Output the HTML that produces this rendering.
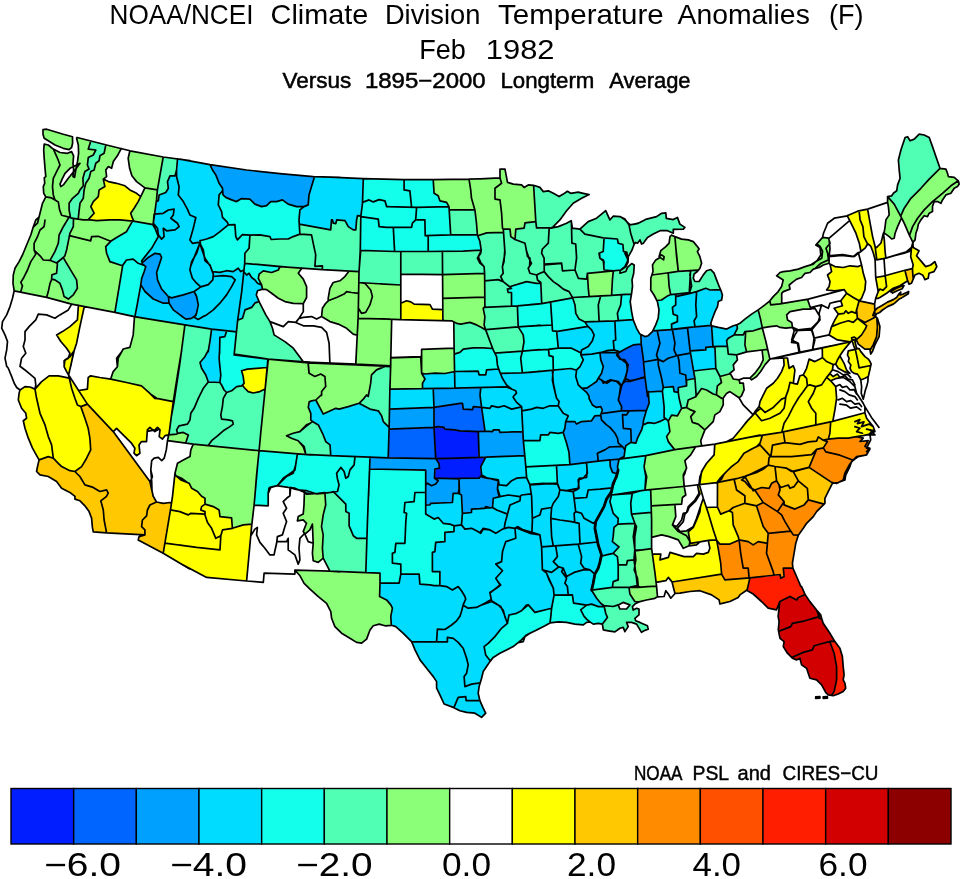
<!DOCTYPE html>
<html><head><meta charset="utf-8"><title>NOAA/NCEI Climate Division Temperature Anomalies</title>
<style>html,body{margin:0;padding:0;background:#fff;}svg{display:block;filter:blur(0.45px);}</style></head>
<body>
<svg width="961" height="879" viewBox="0 0 961 879">
<rect width="961" height="879" fill="#fff"/>
<path fill="#001eff" fill-rule="evenodd" d="M434.7,427.3 434.3,431.0 436.0,458.3 441.3,458.7 436.7,459.0 436.7,460.3 439.3,464.0 439.7,468.0 439.0,468.7 435.3,469.3 435.0,478.0 479.3,478.0 481.3,475.7 480.3,467.0 484.7,459.0 484.7,457.3 474.7,457.3 478.7,457.0 478.0,432.0 459.7,431.0 445.7,429.3 443.0,427.3Z"/>
<path fill="#0064ff" fill-rule="evenodd" d="M433.7,427.7 389.3,429.3 388.7,457.7 435.3,458.3ZM434.3,407.7 434.3,427.0 438.0,426.3 444.0,427.3 446.0,429.0 462.7,430.7 474.7,431.3 484.7,430.7 481.3,407.7 473.3,407.0 472.7,409.3 471.7,410.0 464.0,409.3 463.0,408.3 462.3,403.7 458.3,403.7ZM641.0,344.3 632.7,345.3 619.0,352.7 618.7,351.7 617.0,351.7 617.0,353.0 618.3,353.7 618.3,355.3 620.0,358.3 625.0,360.0 628.3,365.0 626.0,377.0 626.3,379.0 625.7,379.3 625.7,381.0 627.0,381.3 624.7,381.7 621.7,385.7 618.7,398.7 618.7,400.7 622.0,407.0 621.7,410.3 646.3,410.0 648.7,404.0 648.3,396.3 647.0,395.7 645.0,378.0 641.7,378.0 644.7,377.0 643.0,356.7ZM636.7,379.7 630.0,382.0 628.0,381.7 628.7,381.3 629.0,380.0 631.3,380.3 635.0,379.3Z"/>
<path fill="#00a0ff" fill-rule="evenodd" d="M498.0,480.7 487.7,478.7 482.3,477.0 480.0,477.0 478.3,478.7 459.3,479.0 460.0,494.0 462.0,495.7 462.7,513.0 471.3,512.0 471.3,509.7 472.3,508.7 485.0,508.0 485.7,506.7 488.7,507.3 492.0,507.0 493.0,499.0 494.0,498.0 498.7,497.0 498.7,494.7 497.0,490.0ZM370.3,457.7 370.0,468.7 425.0,470.0 426.0,471.0 426.0,504.7 430.0,504.7 431.3,503.0 452.0,502.0 453.0,494.0 454.0,493.0 458.3,493.0 458.7,479.0 437.3,478.7 437.0,480.0 434.7,478.3 434.7,469.7 435.7,468.7 439.3,468.0 438.7,463.0 436.0,459.0ZM478.7,432.0 479.3,457.0 524.3,455.3 522.7,432.0 500.7,432.7 499.7,432.0 499.0,430.3 493.3,430.3 491.7,432.0 487.3,431.3ZM433.7,407.7 389.7,409.3 389.3,428.7 433.7,427.0ZM480.3,388.0 433.7,389.0 434.3,407.0 459.7,403.0 461.7,403.0 462.7,404.0 463.3,408.7 472.3,409.3 473.0,407.0 474.0,406.3 481.3,407.0 479.7,395.3ZM606.0,351.0 606.0,352.3 607.7,352.3 607.7,353.0 600.3,353.0 601.0,360.7 603.3,366.0 603.3,367.7 602.0,373.0 599.3,376.7 599.0,378.7 598.0,379.0 596.0,382.3 587.0,388.3 583.3,388.3 583.3,389.7 587.0,392.7 589.0,396.0 589.3,399.0 592.3,405.0 596.0,407.0 600.7,406.7 602.3,409.7 602.0,413.0 604.0,413.3 601.7,413.7 600.7,415.7 594.7,416.0 592.0,420.3 591.0,421.0 581.0,422.0 577.0,424.0 575.3,422.0 566.0,422.0 565.3,428.0 563.7,431.7 563.7,433.0 569.3,452.3 570.3,464.3 610.0,459.7 610.7,467.3 612.3,472.0 617.3,473.0 617.7,468.7 617.0,466.7 618.3,462.0 618.0,459.0 623.7,456.7 624.7,451.7 624.7,449.3 624.0,448.7 625.0,448.3 625.3,446.3 626.3,445.0 631.0,442.0 631.3,439.7 631.7,442.3 635.7,443.0 636.7,439.3 641.7,429.7 643.0,424.3 643.3,420.0 645.7,412.7 645.7,410.7 629.0,411.0 628.3,412.0 628.0,411.0 620.7,410.7 621.3,409.3 621.3,406.0 618.3,400.3 618.3,398.7 619.3,395.7 620.3,385.0 622.0,384.7 623.7,381.3 627.0,371.0 626.7,364.3 625.3,362.3 619.7,358.7 617.0,355.3 616.7,352.7 609.3,352.7 609.0,351.0ZM619.7,446.3 620.3,445.0 622.0,446.3ZM616.7,381.7 618.3,381.7 620.3,384.3 620.0,384.7ZM613.0,380.3 610.7,380.7 607.0,383.3 603.3,383.3 602.0,381.0 602.3,380.3 604.7,382.0 606.0,382.0 609.7,380.0ZM711.3,325.7 687.7,328.0 687.3,329.0 687.0,328.3 672.3,330.0 658.0,331.0 657.7,332.3 657.3,331.0 654.7,331.0 652.0,331.7 647.3,336.3 644.7,336.7 642.7,335.3 641.3,335.3 641.7,345.7 644.0,361.3 646.0,361.7 644.0,362.0 647.0,392.0 662.3,390.7 663.3,387.0 672.7,386.3 673.7,387.3 674.0,391.0 674.7,391.7 678.0,392.0 678.0,388.0 679.0,387.0 686.3,385.7 686.3,379.7 694.3,378.3 694.3,375.7 692.0,365.0 690.3,353.7 688.7,353.3 690.0,353.0 690.3,350.7 705.3,349.7 705.3,348.0 706.3,347.0 712.7,346.3ZM685.3,375.7 685.7,375.3 686.0,376.0 685.7,376.3ZM679.7,372.3 680.0,372.0 680.3,372.7 680.0,373.0ZM678.3,359.3 678.7,359.0 679.0,359.7 678.7,360.0ZM658.0,358.3 658.3,359.3 659.7,360.0 658.7,360.3 658.3,365.0 658.0,360.0 656.0,359.7 657.7,359.3ZM678.0,357.3 678.3,357.0 678.7,357.7 678.3,358.0ZM676.0,355.3 678.3,355.7 676.3,356.0ZM674.0,347.7 674.3,347.3 674.7,348.0 674.3,348.3ZM674.3,345.3 674.7,345.0 675.0,345.7 674.7,346.0ZM674.7,343.3 675.0,343.0 675.3,343.7 675.0,344.0ZM147.7,257.7 142.7,262.7 142.7,264.3 145.7,266.7 145.7,267.7 142.0,277.7 141.0,285.7 144.7,291.3 153.3,299.0 162.7,303.0 168.7,303.0 169.0,302.3 169.3,304.0 173.0,309.7 184.7,318.3 190.7,318.3 194.7,316.3 196.7,313.0 198.0,303.7 196.7,297.0 194.3,292.3 192.0,292.3 183.3,295.3 172.7,298.0 171.0,298.0 170.0,297.3 168.3,297.7 168.0,296.0 161.3,288.7 157.0,279.7 156.3,272.3 161.3,258.0 160.3,254.7 159.3,254.0 154.3,253.7ZM211.0,165.3 211.0,167.0 212.3,170.0 216.0,175.3 219.3,184.0 222.7,188.7 223.3,195.3 225.7,197.3 229.3,199.0 237.3,201.3 242.0,198.3 249.3,198.7 254.3,203.7 261.0,206.3 267.3,205.3 271.3,201.3 277.3,201.3 281.3,200.0 282.7,200.0 288.7,204.0 296.0,206.3 304.7,206.3 308.0,205.0 308.7,195.0 314.0,178.7 314.0,177.0 249.0,170.7 214.0,165.3Z"/>
<path fill="#00dcff" fill-rule="evenodd" d="M609.7,460.3 586.7,463.0 586.3,464.0 586.0,463.3 582.3,463.3 570.7,465.0 557.0,465.7 557.7,479.7 557.3,484.3 548.7,484.0 532.3,485.0 530.0,485.7 526.7,477.7 525.7,477.3 526.3,477.0 524.3,456.0 485.7,457.3 481.0,466.0 482.0,475.0 487.0,478.0 497.7,479.7 498.7,480.7 499.0,484.3 500.3,485.0 498.0,485.3 498.0,490.0 500.3,496.7 493.7,498.3 492.3,507.7 472.0,509.3 472.0,511.7 471.0,512.7 462.7,513.7 462.3,515.7 461.3,495.0 459.0,493.7 453.7,493.7 452.7,501.7 451.7,502.7 430.7,503.7 429.3,505.3 426.0,505.3 426.0,514.0 433.3,518.7 438.3,517.3 443.0,523.0 449.7,523.7 455.3,525.7 454.3,526.0 454.3,531.0 453.3,532.0 445.3,532.7 445.3,541.0 444.3,542.0 436.0,542.7 435.3,551.0 434.3,552.0 432.7,552.3 432.7,571.3 439.3,571.3 440.3,572.3 440.7,585.7 434.0,586.0 420.7,584.3 419.7,583.3 418.7,574.3 400.7,574.3 399.7,581.7 398.3,583.7 380.3,583.7 380.0,596.7 386.3,599.7 391.0,605.3 392.3,608.0 391.0,615.0 391.7,625.0 396.3,627.0 411.3,641.7 423.7,642.0 412.7,642.3 412.7,644.0 420.3,660.7 433.7,677.0 437.0,682.0 437.0,689.0 444.3,704.0 452.7,707.0 454.3,706.7 454.7,708.0 460.0,710.7 465.3,712.0 474.7,713.0 481.0,717.0 482.3,717.0 485.3,714.0 485.3,712.7 480.0,701.0 466.7,700.7 479.3,700.3 479.3,698.0 478.0,693.0 478.7,686.7 479.3,685.3 479.0,683.0 480.3,682.3 483.0,672.0 490.0,661.7 490.0,660.3 485.3,654.7 484.0,646.7 489.0,643.0 494.7,637.3 501.3,628.7 506.7,624.0 506.3,620.7 507.7,620.3 508.7,615.7 509.7,614.7 516.3,613.3 521.7,610.7 527.3,604.7 534.7,612.0 551.3,608.3 554.0,594.0 554.3,595.0 568.0,594.7 568.3,594.0 568.7,594.7 571.7,594.7 572.7,595.7 573.7,603.0 585.0,605.0 592.3,604.0 597.7,606.3 602.7,606.0 602.7,604.7 600.3,603.0 596.3,598.0 591.7,590.3 594.7,575.3 594.7,573.7 594.0,573.3 595.7,573.0 598.0,569.0 600.0,562.3 601.7,554.7 602.0,555.7 604.0,555.7 613.3,553.3 618.3,548.0 618.3,546.7 612.3,541.7 613.7,528.0 617.7,524.3 618.0,517.7 613.0,513.0 610.0,502.7 611.0,497.7 611.0,494.7 610.0,494.0 611.3,492.3 611.3,488.3 608.3,488.0 612.3,487.3 613.0,483.7 614.7,480.7 615.3,477.0 616.3,475.3 616.3,473.7 612.0,472.0 610.0,466.7ZM463.7,677.0 464.0,676.7 464.3,677.3 464.0,677.7ZM441.3,641.7 424.7,641.7 436.3,641.3 436.7,639.0 437.0,641.3ZM504.0,614.3 504.3,614.0 504.7,614.7 504.3,615.0ZM502.3,609.3 503.7,610.7 504.3,613.0 504.0,614.3 502.0,610.3ZM463.0,605.3 463.3,605.0 464.3,606.0 463.3,606.3ZM495.7,603.3 495.0,603.7 492.3,602.0 491.0,602.0 484.7,604.3 483.7,604.0 490.3,600.3 491.0,597.0 491.7,600.3ZM492.0,591.0 492.3,591.3 490.7,593.0 490.3,595.3 489.7,593.0ZM493.0,590.3 493.3,590.7 492.3,591.3 492.0,591.0ZM567.0,587.0 567.3,586.7 567.7,587.3 567.3,587.7ZM499.7,583.7 500.7,585.0 500.0,585.7 499.3,585.3ZM550.0,582.0 550.3,581.7 550.7,582.3 550.3,582.7ZM549.7,581.3 550.0,581.0 550.3,581.7 550.0,582.0ZM549.3,580.7 549.7,580.3 550.0,581.0 549.7,581.3ZM549.0,580.0 549.3,579.7 549.7,580.3 549.3,580.7ZM548.7,579.3 549.0,579.0 549.3,579.7 549.0,580.0ZM548.3,578.7 548.7,578.3 549.0,579.0 548.7,579.3ZM548.0,577.7 548.3,577.3 548.7,578.0 548.3,578.3ZM565.7,574.0 566.3,575.7 567.7,576.0 566.3,577.7 564.3,575.3 565.3,575.0ZM542.7,570.3 546.0,570.7 545.7,572.7ZM583.3,570.0 584.0,569.7 584.3,568.3 590.0,570.0ZM563.0,568.0 564.0,569.3 563.7,570.0 562.7,569.7ZM558.0,566.7 559.7,567.0 558.3,567.3ZM580.7,561.0 581.0,560.7 581.3,561.3 581.0,561.7ZM581.0,558.7 581.3,558.3 581.7,559.0 581.3,559.3ZM581.3,556.7 581.7,556.3 582.0,557.0 581.7,557.3ZM556.7,554.3 557.0,554.0 557.3,554.7 557.0,555.0ZM580.7,554.0 581.0,553.7 581.3,554.3 581.0,554.7ZM580.3,552.7 580.7,552.3 581.0,553.0 580.7,553.3ZM556.3,552.3 556.7,552.0 557.0,552.7 556.7,553.0ZM556.0,550.0 556.3,549.7 556.7,550.3 556.3,550.7ZM555.7,548.0 556.0,547.7 556.3,548.3 556.0,548.7ZM579.0,547.7 579.3,547.3 579.7,548.0 579.3,548.3ZM541.7,546.3 543.3,547.0 542.0,547.3 541.7,552.3ZM578.7,546.3 579.0,546.0 579.3,546.7 579.0,547.0ZM576.7,544.0 579.7,544.0 579.0,544.3 578.7,545.7 578.3,544.3ZM552.7,544.0 553.3,544.0 553.3,545.7 555.7,545.7 556.0,546.3 552.7,546.3ZM596.7,542.0 597.7,541.3 598.0,541.7 597.7,542.3ZM579.7,541.3 580.3,541.3 580.3,543.3 582.7,543.7 580.0,544.0ZM551.7,538.3 552.0,538.0 552.3,538.7 552.0,539.0ZM482.7,530.0 480.7,533.3 479.0,532.3 480.3,532.0 482.3,529.7ZM483.0,528.7 484.3,528.3 487.3,529.3 485.3,529.7 483.3,529.3ZM514.7,528.0 515.3,528.3 515.0,530.3ZM515.3,528.0 517.7,526.7 522.7,529.7 531.7,531.7 532.0,526.7 532.3,532.3 539.3,534.7 538.0,535.0 530.3,533.7 517.7,528.3ZM504.7,525.3 505.0,527.7 506.3,528.0 504.3,528.7ZM461.7,522.7 462.0,525.0 460.7,525.3 460.3,525.0 461.3,524.7ZM595.7,521.7 595.3,526.0 595.0,523.3 592.7,523.0ZM574.7,520.7 575.0,522.3 573.0,522.0 574.3,521.7ZM550.7,517.0 551.0,518.3 553.0,518.7 551.0,519.0 550.7,521.0ZM532.3,514.7 532.7,517.3 534.0,517.7 532.7,518.3 532.3,525.7ZM575.3,511.3 575.7,511.0 576.0,511.7 575.7,512.0ZM573.7,497.7 574.0,497.3 574.3,498.0 575.7,498.3 574.0,499.0ZM519.3,496.7 520.3,496.3 520.7,497.7 520.3,498.0ZM531.3,493.3 531.3,494.7 530.3,494.0ZM572.7,491.7 573.3,491.3 573.7,492.3 573.3,492.7ZM530.7,491.7 531.0,491.3 531.3,492.0 531.0,492.3ZM571.3,490.0 571.0,491.7 564.7,490.7 570.3,489.7ZM530.3,489.3 530.7,489.0 531.0,489.7 530.7,490.0ZM578.3,488.7 576.0,490.3 575.0,489.0 577.3,488.3ZM583.3,477.7 583.7,478.0 583.0,478.7 579.0,480.3 579.3,487.7 578.3,488.7 578.0,480.7 578.7,479.0 579.7,478.0ZM586.7,474.3 587.0,476.7 586.0,477.7 583.7,478.0 583.3,477.7 584.3,477.3ZM587.0,468.7 587.7,472.3 587.0,473.7ZM309.3,402.0 308.7,408.0 311.0,413.7 311.0,420.7 318.7,425.3 323.0,434.3 325.7,441.7 330.3,445.7 331.0,455.3 388.0,457.7 388.7,426.7 383.0,421.3 381.3,415.0 378.7,411.0 370.3,409.3 359.7,403.7 358.3,403.7 348.3,407.0 340.0,409.0 335.0,408.7 323.3,414.0 315.7,400.3 312.0,400.7ZM662.0,391.3 648.7,392.3 649.3,403.3 644.0,419.0 643.7,424.0 645.3,424.0 648.7,422.3 655.7,423.0 664.3,419.3 664.3,417.7 663.7,416.7 663.7,404.7ZM390.3,389.3 390.0,408.7 433.7,407.0 433.0,389.0ZM714.7,348.0 713.3,347.0 706.0,347.7 706.0,349.3 705.0,350.3 690.7,351.3 693.7,370.7 715.3,368.3ZM736.7,325.3 732.7,326.0 727.0,329.0 720.0,328.0 714.3,326.3 712.0,326.3 713.3,346.3 727.0,346.0 726.3,341.0 728.7,338.0 734.0,335.0 737.0,329.0ZM640.7,334.3 639.7,333.7 636.7,328.7 633.3,320.0 615.3,321.0 615.0,325.0 614.7,321.0 586.0,322.3 586.0,323.7 587.7,326.0 587.3,326.7 557.0,331.7 558.7,348.0 571.3,348.0 579.7,352.3 581.0,352.3 581.3,354.7 582.0,355.0 581.7,357.0 583.3,360.3 580.3,366.3 577.0,369.3 576.7,370.7 571.7,369.0 553.7,370.7 553.0,377.3 553.7,384.7 555.0,389.7 554.7,391.3 552.0,380.0 552.0,371.0 547.0,371.0 523.3,373.3 501.0,373.7 500.7,374.3 498.7,369.3 486.7,370.3 486.3,373.3 485.0,375.3 479.7,375.3 478.7,374.3 478.3,371.7 455.0,372.0 454.7,381.0 454.3,372.3 452.0,372.3 445.0,374.0 423.0,374.0 423.0,375.7 425.0,379.0 422.7,382.7 422.7,388.3 454.7,387.7 455.0,382.3 455.3,387.7 462.0,388.0 486.3,387.3 486.3,388.0 481.0,388.0 480.3,392.7 480.7,399.3 481.7,406.7 482.7,407.3 482.0,407.7 485.3,430.7 492.3,431.3 494.0,429.7 498.3,429.7 499.3,430.3 500.0,432.0 522.7,431.3 523.0,430.7 523.7,440.0 539.7,440.3 540.3,435.7 541.3,434.7 548.7,434.7 550.7,432.0 556.3,433.0 563.0,432.3 564.7,429.0 565.3,422.0 566.3,420.0 566.7,421.3 574.3,421.3 576.0,423.3 578.0,423.3 582.0,421.3 592.0,420.3 595.0,415.7 600.7,414.7 602.0,410.7 601.0,407.3 596.3,407.3 592.7,405.3 588.7,398.0 588.7,395.7 587.3,393.3 581.7,388.0 587.0,388.0 596.7,381.7 598.0,378.7 601.3,374.0 603.0,368.0 603.0,366.0 600.3,359.7 600.0,352.3 606.7,350.3 608.0,350.7 608.0,352.0 615.7,352.0 616.0,350.3 620.7,351.7 633.7,344.7 640.7,344.0ZM567.7,415.7 568.0,415.3 568.3,416.0 568.0,416.3ZM523.3,410.3 523.3,411.0 522.3,411.0 522.0,416.0 521.7,410.7ZM520.7,405.7 522.0,407.3 521.7,409.3 521.3,407.7 519.7,407.3 520.3,407.0ZM555.7,395.7 556.0,395.3 556.3,396.0 556.0,396.3ZM555.0,393.0 555.3,392.7 555.7,393.3 555.3,393.7ZM516.0,392.7 516.3,392.3 516.7,393.0 516.3,393.3ZM510.3,388.0 509.3,388.3 507.3,387.3 500.7,387.0 507.0,386.7 507.3,385.3ZM575.3,376.3 575.7,376.0 576.0,376.7 575.7,377.0ZM575.7,374.3 576.0,374.0 576.3,374.7 576.0,375.0ZM576.0,372.0 576.3,371.7 576.7,372.3 576.3,372.7ZM614.0,348.3 614.3,350.0 613.0,350.3 612.7,350.0 613.7,349.7ZM720.7,290.3 710.3,290.3 705.0,288.7 697.0,291.7 696.7,293.3 696.3,292.3 694.7,292.3 683.3,295.0 683.0,293.7 676.0,294.3 676.0,296.0 677.3,296.3 676.0,296.7 676.0,304.3 672.7,307.3 673.7,314.0 677.0,315.3 677.7,316.3 677.7,321.0 677.0,322.0 672.0,324.0 672.3,329.0 710.7,325.0 710.7,322.3 717.0,307.3 718.0,302.3 721.7,299.3 722.0,294.3ZM314.7,177.0 309.3,194.3 308.7,204.3 308.0,205.3 304.0,206.7 300.3,209.7 299.3,217.7 299.7,224.0 327.3,229.3 330.3,229.3 331.3,220.7 332.0,220.0 332.7,220.3 333.3,223.0 335.7,223.3 336.3,220.3 337.3,219.7 342.0,220.0 345.3,221.0 348.3,226.7 353.0,229.7 355.3,229.7 357.0,216.3 357.7,215.7 360.7,215.7 362.0,205.3 363.0,179.0 334.0,177.3ZM177.7,159.3 177.0,176.3 176.7,176.7 176.3,175.7 169.7,176.3 167.7,181.0 168.7,188.0 165.3,192.7 159.3,195.0 158.7,200.0 156.7,201.7 155.3,210.7 155.7,214.0 154.7,215.3 154.0,224.3 155.0,225.3 154.3,226.0 154.3,227.3 155.0,227.7 156.0,230.7 158.0,230.3 158.3,234.3 159.3,236.3 157.7,237.7 152.0,248.0 142.0,260.0 142.0,262.0 143.7,262.0 148.7,257.0 155.3,253.0 160.0,254.0 161.7,258.0 157.3,270.3 157.0,274.7 157.7,280.7 162.0,289.7 168.3,296.7 171.0,297.7 173.0,297.7 183.3,295.0 194.3,291.3 194.7,293.0 197.0,297.0 198.7,305.0 197.0,313.0 196.0,315.3 195.0,316.0 194.7,317.7 193.0,317.3 191.3,318.7 186.0,319.3 174.3,311.0 169.3,303.7 163.7,303.7 153.7,299.3 144.7,291.3 142.0,287.0 140.7,287.0 135.3,316.7 183.3,324.7 212.7,329.0 211.7,329.7 210.7,339.7 208.7,351.0 207.0,352.7 205.3,356.3 200.3,361.7 200.3,363.3 202.0,369.0 205.7,374.7 208.3,381.7 219.7,382.0 220.3,372.3 218.7,359.0 219.7,338.0 220.7,337.0 225.0,336.3 226.0,332.7 225.7,330.3 236.0,331.3 237.3,319.0 240.0,319.3 242.0,318.3 244.7,310.3 251.7,307.3 255.3,302.7 258.3,301.7 258.3,300.0 256.3,295.7 256.3,293.7 257.7,290.3 262.0,289.0 261.7,285.3 257.7,283.7 255.3,280.3 251.3,277.0 249.3,274.0 248.0,274.0 247.0,275.0 245.3,273.3 243.7,273.7 243.3,271.0 240.7,271.7 238.7,269.0 237.3,269.0 233.0,272.0 225.3,271.0 219.7,272.7 213.3,272.0 213.0,273.3 210.0,265.7 204.7,260.0 204.0,255.7 200.3,246.7 199.0,246.7 197.3,252.3 195.0,256.0 194.7,255.7 199.3,244.7 199.0,242.7 200.7,240.3 206.7,239.0 213.7,236.3 227.7,225.3 227.0,221.7 222.0,216.7 221.3,211.0 218.0,204.7 218.7,195.3 222.3,191.3 222.0,187.7 218.3,182.3 215.3,174.3 212.0,169.7 209.7,164.7ZM238.7,310.0 239.0,309.7 239.3,310.3 239.0,310.7ZM239.0,307.7 239.3,307.3 239.7,308.0 239.3,308.3ZM239.3,305.3 239.7,305.0 240.0,305.7 239.7,306.0ZM239.7,303.0 240.0,302.7 240.3,303.3 240.0,303.7ZM199.7,287.3 200.0,286.7 201.0,287.0 200.0,287.7ZM212.7,277.7 213.0,276.0 214.3,276.7 213.3,277.0 213.0,278.0ZM213.0,274.3 213.3,274.0 213.7,274.7 213.3,275.0ZM190.7,265.0 191.0,264.7 191.3,265.3 191.0,265.7ZM192.7,260.0 193.0,261.0 191.3,264.7 191.3,262.0ZM192.7,259.7 193.0,259.3 193.3,260.0 193.0,260.3ZM194.3,256.0 194.7,255.7 195.0,256.3 194.7,256.7ZM163.7,228.3 164.7,229.3 163.3,230.0 163.0,229.0ZM178.3,226.3 178.7,226.0 179.0,226.7 178.7,227.0ZM173.0,214.3 173.3,214.0 173.7,214.7 173.3,215.0Z"/>
<path fill="#14ffeb" fill-rule="evenodd" d="M604.0,606.7 598.7,607.0 592.3,604.3 587.0,605.3 585.3,606.3 585.0,605.3 574.3,603.7 573.0,601.3 572.3,595.3 554.0,595.7 551.7,609.3 549.0,609.0 535.3,612.3 529.0,605.7 527.7,605.7 521.3,611.0 516.3,613.7 509.0,615.3 507.7,622.7 500.7,629.3 495.3,636.3 484.3,646.7 486.0,655.7 489.7,660.3 491.0,660.3 493.7,657.0 499.7,653.3 513.3,646.7 521.0,640.3 521.3,641.7 523.0,641.7 523.7,640.3 523.3,638.7 527.0,634.7 549.3,623.3 550.0,622.0 550.3,622.7 557.7,621.7 566.7,622.0 573.7,623.7 583.7,624.7 587.0,622.0 588.7,622.0 589.0,621.3 592.7,623.7 598.0,623.0 602.7,623.7 607.0,618.0ZM580.7,610.0 581.0,609.7 581.3,610.3 581.0,610.7ZM613.7,553.7 601.3,556.7 598.7,568.0 595.0,574.3 592.3,589.7 612.3,587.0 613.3,581.7 618.0,580.0 618.0,563.0 617.0,556.3ZM259.3,451.0 254.3,505.0 268.0,505.3 268.0,493.0 268.7,489.0 270.7,487.0 275.7,486.0 278.3,484.7 278.7,485.7 290.0,487.0 294.7,488.0 298.7,489.7 306.7,490.3 306.7,491.0 304.7,491.0 304.7,492.3 308.7,493.7 310.0,493.7 310.7,491.7 314.0,493.0 320.0,493.0 322.7,492.3 326.7,493.0 332.0,491.7 335.3,491.7 335.0,493.7 346.0,504.7 346.0,511.7 348.7,513.0 349.3,514.0 349.3,526.3 353.3,535.7 356.3,538.0 366.3,538.0 366.3,536.7 367.0,536.7 366.0,572.3 379.3,573.0 380.3,574.0 380.3,583.0 399.0,583.0 400.3,575.3 400.7,564.3 401.0,573.7 418.3,573.7 419.3,574.7 420.3,583.7 432.3,585.3 439.7,585.3 439.7,572.0 433.0,572.0 432.0,571.0 432.0,553.0 433.0,552.0 434.7,551.7 435.3,543.0 436.3,542.0 444.7,541.3 444.7,533.0 445.7,532.0 453.7,531.3 453.7,525.7 450.7,524.3 444.0,523.7 439.0,518.0 436.7,518.0 433.7,519.0 425.7,514.0 425.3,492.7 415.3,492.3 425.3,492.0 425.3,470.7 370.0,469.3 369.3,481.3 369.0,472.7 369.7,457.7 355.3,457.0 355.0,457.7 354.7,457.0 328.3,456.0 316.0,455.0 309.0,455.3 300.7,454.3 297.3,454.7 296.7,454.0ZM369.0,481.3 369.3,490.7 368.7,496.0 368.3,488.7ZM345.3,477.7 346.7,477.7 346.0,478.3ZM336.3,473.7 336.7,473.3 337.0,474.0 336.7,474.3ZM294.3,471.0 293.0,473.7 286.0,477.0 282.0,481.0 281.7,480.7 284.3,477.3 293.7,470.7ZM340.3,467.7 340.7,467.3 341.0,468.0 340.7,468.3ZM295.3,466.0 295.7,468.0 294.3,470.7 294.0,469.7ZM353.7,464.3 354.0,464.0 354.3,464.7 354.0,465.0ZM296.0,460.3 296.3,460.0 296.7,460.7 296.3,461.0ZM296.3,458.3 296.7,458.0 297.0,458.7 296.7,459.0ZM296.7,456.0 297.0,455.7 297.3,456.3 297.0,456.7ZM563.3,432.7 558.3,433.7 549.7,432.7 547.7,435.3 541.0,435.3 540.3,440.0 539.3,441.0 523.7,440.7 526.0,466.7 528.3,467.0 526.0,467.3 526.7,476.0 529.7,484.0 542.0,483.0 557.0,483.0 556.3,465.7 554.7,465.3 569.7,464.3 568.7,451.3ZM673.0,387.0 663.3,387.7 662.7,390.0 664.3,406.0 664.3,417.7 666.0,419.0 654.7,423.7 647.7,423.0 643.3,425.0 642.0,429.7 637.7,437.7 636.0,443.0 634.0,443.3 630.3,442.7 626.7,445.0 625.7,446.3 624.0,458.0 625.0,458.3 619.0,459.3 617.7,465.3 618.3,472.0 612.7,487.0 611.7,494.7 613.3,495.0 611.7,495.3 610.3,500.3 610.3,502.7 613.7,514.0 618.7,519.0 618.3,523.7 634.0,523.0 634.0,521.7 631.3,514.7 631.7,512.7 632.0,513.7 651.0,512.0 650.3,490.3 644.3,490.3 645.0,487.3 645.3,475.0 643.7,466.3 645.3,457.3 645.0,455.7 673.7,449.7 673.0,447.3 668.0,441.3 666.7,437.7 667.0,436.0 669.7,432.3 668.3,421.7 667.3,420.3 669.3,419.3 671.7,415.0 677.3,415.7 681.3,409.0 681.3,407.3 678.7,398.3 678.3,393.3 677.7,392.3 674.7,392.0 673.7,391.0ZM639.3,491.3 632.3,493.7 617.0,495.0 613.3,494.7 635.0,491.3ZM226.7,331.0 225.3,336.3 220.3,337.7 219.3,360.3 221.0,373.7 220.3,383.0 224.0,390.0 226.0,391.7 228.3,391.7 232.0,390.3 237.0,386.3 242.3,385.3 243.7,384.0 243.3,377.7 241.7,372.0 242.0,370.3 247.3,368.7 267.0,367.3 267.7,359.3 234.7,355.3 233.7,354.3 236.0,332.0ZM631.0,294.7 622.0,295.0 621.0,304.7 617.7,312.7 618.3,320.0 632.7,319.3 630.0,302.0ZM675.3,294.3 670.0,295.0 661.3,300.3 657.7,300.7 657.7,303.0 659.3,310.0 658.7,318.0 653.7,329.0 653.7,330.7 671.7,329.3 671.7,324.0 677.0,321.7 677.0,315.7 673.3,314.0 672.3,309.7 672.3,307.3 675.3,305.0ZM587.0,325.0 585.0,322.0 579.3,319.3 575.7,313.7 574.7,304.3 572.7,298.3 567.7,298.7 551.0,302.0 550.7,304.3 550.3,302.3 541.7,304.0 535.3,304.3 535.3,303.7 541.3,303.3 540.3,283.7 536.7,283.7 526.0,282.0 511.0,286.3 511.3,288.3 508.0,289.0 508.3,292.0 511.0,292.0 512.0,293.0 512.0,305.7 518.7,305.7 517.7,306.0 518.7,326.7 520.0,327.0 519.3,327.3 519.3,328.7 523.7,335.3 524.3,341.7 522.7,351.0 523.7,351.3 522.3,351.7 522.0,353.0 521.7,351.7 496.7,353.3 495.7,354.7 492.7,348.7 471.0,348.3 462.7,349.3 459.7,352.7 454.3,354.3 455.0,371.3 477.7,371.0 478.7,372.0 479.0,374.7 485.7,374.7 486.0,371.7 487.3,369.7 497.3,369.0 498.3,367.7 500.3,373.0 522.0,372.7 522.3,372.0 522.7,372.7 539.0,371.0 553.0,370.0 553.3,364.0 553.7,370.0 569.7,368.3 577.0,370.0 579.7,367.3 583.0,360.7 583.0,359.3 580.7,355.3 580.7,353.0 572.3,348.7 557.7,348.7 558.0,346.0 556.3,331.3 587.0,326.3ZM520.3,358.7 520.7,358.3 521.0,359.0 520.7,359.3ZM541.0,350.0 536.0,350.7 531.7,350.3 539.0,349.3ZM547.0,349.0 549.3,349.3 548.7,352.0 548.3,349.7 547.0,349.7ZM540.3,325.7 534.0,325.7 538.7,325.0ZM552.0,322.7 552.0,327.3 551.7,325.3 549.0,325.0 551.7,324.7ZM604.3,238.3 603.7,251.0 603.0,252.0 599.7,253.3 600.3,258.3 603.0,259.7 604.3,262.3 604.3,269.7 610.3,270.3 621.0,269.7 625.0,266.7 627.3,262.0 627.3,258.0 625.7,255.0 627.0,254.7 627.0,253.3 623.3,251.0 622.7,244.7 618.7,243.7 617.3,239.3ZM132.3,221.7 127.0,231.3 110.7,241.3 106.0,246.0 106.0,248.3 107.0,254.0 110.0,261.3 119.3,264.7 123.0,265.3 115.3,312.3 135.0,316.3 141.3,278.3 145.0,268.3 145.0,266.3 144.0,265.3 141.0,264.3 142.0,264.0 141.7,260.7 151.3,249.0 157.7,238.0 158.0,236.0 155.0,228.3 152.7,224.7ZM221.0,192.3 219.3,194.3 218.7,205.7 222.0,212.0 222.7,218.0 227.7,222.7 228.3,224.7 231.0,225.0 228.0,225.3 213.7,236.7 206.7,239.3 200.3,240.7 200.7,244.7 203.7,250.3 204.3,256.0 205.3,259.0 210.3,265.3 212.3,271.3 221.3,272.0 227.0,270.3 233.7,271.3 238.0,268.3 240.3,271.0 242.0,271.0 243.7,270.0 244.0,268.7 244.0,272.3 246.0,274.3 247.7,274.3 249.0,273.3 251.3,277.0 255.3,280.3 257.3,283.3 260.3,283.7 260.3,282.3 258.0,278.0 258.7,274.7 260.0,273.0 263.0,270.7 272.3,272.0 278.0,270.0 279.0,268.7 279.0,267.0 247.0,263.7 244.3,264.0 244.7,253.7 248.7,249.0 249.7,235.7 248.7,235.3 260.0,234.7 269.3,236.3 270.3,237.0 271.3,239.3 278.7,238.7 289.0,238.7 299.7,234.0 298.7,219.3 299.7,210.7 302.0,208.3 302.0,207.0 296.7,207.0 289.3,204.7 283.3,200.7 280.3,200.7 276.7,202.0 270.0,202.0 266.0,206.0 261.0,206.7 255.3,204.3 250.7,199.3 241.0,199.0 237.0,201.7 232.7,200.7 225.0,197.0 223.0,195.0 222.7,192.7ZM363.7,179.0 362.7,201.7 363.3,202.0 362.7,202.3 361.0,214.7 360.7,250.0 394.3,251.3 394.7,249.0 395.0,251.3 428.0,251.3 428.0,236.3 426.0,236.0 426.0,235.3 431.0,235.7 428.7,236.0 428.7,251.3 467.0,251.0 481.0,250.0 480.0,242.3 477.3,235.3 444.3,235.0 450.3,234.7 448.7,207.0 441.3,206.7 448.0,206.3 448.0,204.7 446.7,202.3 440.0,200.7 438.3,196.0 434.0,193.3 433.0,180.0 404.3,180.0 404.0,189.7 403.7,180.0ZM385.3,227.3 411.3,227.3 393.7,227.7 393.3,230.0 393.0,227.7ZM378.7,225.7 379.0,225.3 379.3,226.0 379.0,226.3ZM378.0,219.7 378.3,219.3 378.7,220.0 378.3,220.3ZM415.3,218.7 416.0,218.7 416.0,219.7 424.7,220.0 415.7,220.3ZM409.7,207.3 411.3,207.0 411.7,206.3 412.0,207.0 424.3,207.3 417.0,207.7 416.7,209.0 416.3,207.7Z"/>
<path fill="#50ffb4" fill-rule="evenodd" d="M592.7,590.3 593.0,592.7 599.7,602.3 603.0,605.0 605.0,605.7 604.3,606.0 604.3,607.7 605.7,613.3 607.3,617.3 602.7,623.3 603.3,629.7 615.3,631.7 619.7,628.3 623.3,627.3 624.7,630.3 626.0,630.3 628.0,627.3 626.7,623.0 627.3,622.0 631.7,622.0 636.3,623.7 641.3,631.7 642.7,631.7 643.7,630.7 647.7,629.0 647.7,627.0 646.7,625.3 635.3,620.3 635.0,618.3 638.7,615.3 638.7,609.0 636.0,608.7 633.7,610.0 632.7,609.0 632.3,607.0 635.3,603.7 636.3,603.3 636.3,602.0 634.7,601.3 629.7,593.7 628.7,587.7 610.7,587.7ZM617.0,605.3 623.0,602.3 630.0,605.0 626.0,609.3 620.7,609.3 619.7,608.7 618.7,606.0ZM651.0,512.7 632.0,514.3 632.0,515.7 635.0,523.3 634.7,523.7 617.7,524.3 614.3,527.0 613.7,536.7 612.7,542.0 619.0,547.0 614.0,552.3 614.0,553.7 617.7,557.3 618.7,564.7 626.3,565.0 618.7,565.3 618.7,579.3 618.0,580.3 613.3,582.0 612.7,587.0 630.3,587.0 637.0,585.7 636.3,576.7 634.0,570.7 634.0,560.7 633.0,560.0 634.0,559.0 634.7,552.3 633.0,536.3 635.3,536.7 635.3,549.7 642.3,549.7 651.3,548.3ZM626.7,562.7 627.0,562.3 627.3,563.0 627.0,563.3ZM633.3,534.3 635.7,534.7 633.7,535.0ZM633.7,532.3 636.0,532.7 634.0,533.0ZM634.0,530.0 634.3,529.7 634.7,530.3 636.3,530.7 634.3,531.0ZM634.3,528.0 634.7,527.7 635.0,528.3 634.7,528.7ZM635.3,524.0 636.7,526.3 636.3,526.7 634.7,526.3ZM325.7,493.3 325.3,496.0 326.0,504.7 323.7,513.7 322.0,528.0 323.7,535.0 322.7,545.7 323.3,557.3 326.3,564.3 330.0,571.0 365.3,572.3 366.3,538.7 357.0,538.7 353.0,535.3 348.7,525.3 348.7,513.3 346.0,512.0 345.3,511.0 345.3,503.3 334.3,492.3ZM288.7,435.0 289.0,437.0 297.3,440.0 304.3,447.3 306.0,454.0 330.3,455.3 329.7,445.0 325.3,441.3 318.3,425.0 313.7,422.3 311.3,422.3 306.0,426.0 300.0,431.7ZM384.3,366.7 376.0,370.3 372.0,374.3 371.0,383.3 368.7,395.7 366.0,395.7 359.7,402.3 359.7,403.7 369.3,408.7 378.3,410.7 382.0,416.0 383.7,422.3 387.3,426.0 388.7,426.0 390.0,367.0ZM185.3,325.3 180.3,363.7 174.0,403.7 171.3,417.0 169.0,434.7 176.0,434.0 177.3,433.0 183.7,432.3 188.3,435.0 186.3,441.3 186.3,443.0 204.3,445.0 209.0,444.7 209.3,445.3 258.7,450.3 264.7,390.0 263.0,390.0 259.7,392.0 253.3,393.3 248.7,392.0 243.0,385.7 237.0,386.7 231.3,391.0 226.3,393.0 223.7,389.7 220.3,382.7 208.3,382.3 205.7,375.0 201.3,368.0 200.0,362.3 204.7,357.3 208.7,349.3 211.3,329.3ZM189.7,419.3 190.0,419.0 190.3,419.7 190.0,420.0ZM190.3,413.7 190.7,413.3 191.0,414.0 190.7,414.3ZM223.0,398.7 223.3,398.3 223.7,399.0 223.3,399.3ZM758.3,311.0 756.7,311.0 752.7,313.3 740.7,323.0 737.3,324.7 737.7,328.0 735.0,333.0 735.0,334.7 742.7,334.7 742.7,335.3 733.3,335.3 728.3,338.3 727.0,340.0 727.3,347.0 715.0,347.0 716.0,364.3 715.7,369.0 694.0,371.3 695.0,378.7 687.0,380.0 687.0,385.0 686.0,386.0 678.7,387.3 679.0,397.3 681.7,408.0 686.3,407.3 688.3,400.0 695.7,396.7 696.0,394.3 698.0,393.7 701.7,388.3 705.7,389.3 712.7,393.7 716.3,394.3 717.0,386.3 721.0,382.7 721.0,380.3 719.7,376.3 728.7,374.0 733.7,370.3 733.0,365.3 737.0,360.7 736.7,355.7 735.7,355.0 746.3,352.0 744.7,344.7 745.3,333.7 744.0,333.3 744.7,332.0 747.3,331.0 754.0,330.3 761.7,328.0 761.7,325.3ZM245.0,310.3 242.7,318.0 237.7,320.3 234.7,348.7 234.7,354.0 269.7,359.0 302.0,361.3 302.0,359.7 293.0,348.0 285.0,341.7 274.0,335.0 269.7,321.0 265.3,314.7 259.3,302.3 257.3,302.3 254.7,303.3 251.3,307.7ZM719.7,288.0 714.0,273.3 711.0,270.0 706.7,270.7 699.3,281.3 698.3,282.0 695.0,281.7 693.0,278.0 693.7,274.7 696.7,272.0 696.7,270.7 668.7,273.0 669.3,287.7 670.7,294.3 681.7,293.0 682.0,294.7 684.3,294.7 684.3,293.3 683.7,293.3 683.7,292.7 689.0,292.0 689.7,274.7 690.3,272.3 690.3,276.7 691.7,284.3 690.0,284.7 690.0,287.0 691.3,287.3 690.0,291.0 690.0,292.7 696.3,291.7 705.0,288.3 709.3,289.7 719.7,289.3ZM691.3,286.0 691.7,285.7 692.0,286.3 691.7,286.7ZM400.3,284.7 400.3,252.0 361.0,250.7 359.7,268.7 359.0,268.7 360.0,253.3 360.3,216.3 357.3,216.3 356.0,229.3 355.0,230.3 353.7,230.3 349.0,227.3 345.0,221.0 336.7,220.3 335.7,223.7 334.0,223.7 333.0,222.7 331.7,222.7 331.0,229.3 330.3,230.0 302.7,224.7 299.7,224.7 300.3,233.7 301.3,234.0 298.3,234.7 288.0,239.3 277.3,239.3 272.0,240.0 271.0,239.3 269.7,236.7 261.7,235.3 250.3,235.7 249.3,248.0 245.3,252.7 245.0,263.0 319.3,269.3 322.0,269.3 322.3,266.0 322.7,269.3 355.3,271.3 358.7,271.3 359.0,270.0 359.3,282.0 383.0,284.0ZM449.7,210.3 451.0,234.7 477.0,234.7 476.3,221.3 474.7,210.0ZM684.3,227.0 679.7,223.7 677.7,218.3 675.7,218.3 673.7,219.7 667.0,218.7 666.0,217.7 665.3,213.3 661.3,213.7 656.3,217.0 646.7,219.0 638.0,223.7 629.7,225.3 629.3,227.0 628.7,224.3 626.7,221.3 620.3,217.0 613.0,216.7 610.0,219.7 606.3,212.0 604.7,211.7 596.3,218.7 588.3,221.7 580.3,229.3 572.0,228.7 571.7,237.3 571.0,221.7 569.7,221.7 565.7,224.0 556.7,227.3 555.3,227.3 554.7,225.7 559.7,220.7 566.3,211.0 573.7,203.0 587.0,195.7 587.0,194.3 579.3,192.3 570.3,193.3 568.3,192.0 566.3,192.0 558.7,196.7 549.0,191.0 543.3,191.7 540.3,187.7 535.7,186.0 534.0,186.0 536.0,222.0 525.0,223.3 524.3,227.7 523.3,228.7 516.0,229.3 515.0,239.7 510.7,236.7 509.7,229.3 503.7,229.3 503.7,235.7 503.3,232.7 486.0,233.3 478.3,235.7 478.3,237.3 480.7,243.7 481.7,250.0 481.0,252.0 480.7,250.7 465.3,251.7 442.7,252.0 442.3,268.3 442.0,252.0 401.0,252.0 401.0,273.7 442.3,274.3 442.7,269.3 443.0,274.3 484.3,273.0 484.7,272.3 485.0,280.3 486.3,280.7 485.0,281.0 485.3,307.0 486.7,307.3 483.7,307.7 485.3,316.7 484.3,325.7 485.7,329.3 487.3,329.7 486.3,330.0 486.0,331.0 485.7,330.0 481.7,327.3 470.7,322.7 460.7,324.3 454.0,322.7 454.3,353.3 456.3,353.3 460.7,352.0 464.0,348.7 472.7,347.7 492.0,348.0 492.3,347.3 495.0,353.0 522.3,351.0 523.7,343.3 523.0,334.3 518.7,327.3 516.7,327.0 518.0,326.7 517.0,306.0 508.0,306.0 511.3,305.7 511.3,292.7 508.3,292.3 507.3,290.0 508.0,288.7 510.0,288.3 510.0,287.0 509.0,286.3 509.3,286.0 511.7,286.0 526.7,281.3 535.0,283.0 539.7,283.0 540.0,281.7 541.0,283.0 542.0,303.0 546.7,302.7 571.7,297.7 572.0,296.7 575.3,297.0 575.3,297.7 573.0,297.7 573.0,299.0 575.3,305.0 576.0,314.0 579.0,319.0 584.3,321.7 598.7,321.0 599.0,317.7 599.3,321.0 618.0,320.3 617.0,313.7 620.3,305.7 621.3,295.0 619.7,294.7 631.3,294.0 632.0,288.7 631.7,280.3 633.3,274.7 633.7,265.0 633.0,264.3 631.0,264.3 628.0,267.0 627.3,266.0 626.0,266.0 620.3,270.7 620.0,273.0 619.7,270.3 613.7,271.0 612.7,278.0 612.0,295.0 613.3,295.0 613.3,295.7 600.7,296.3 600.3,297.7 600.0,296.3 591.0,297.0 585.0,296.7 588.7,296.3 587.3,279.3 585.0,279.0 586.3,278.7 587.0,274.0 588.0,273.0 604.3,271.3 603.3,266.7 603.0,261.0 600.0,258.3 599.0,255.0 599.3,253.0 603.0,251.7 603.7,238.3 603.0,238.0 604.7,237.7 616.7,238.7 617.7,239.7 618.7,243.3 623.0,244.7 624.0,251.7 626.3,252.0 627.3,253.0 627.7,255.3 629.0,255.3 632.0,249.7 633.7,243.0 635.3,243.0 636.0,242.3 638.0,242.7 640.0,240.0 641.3,243.0 643.3,243.3 647.7,237.0 660.3,230.3 667.0,230.3 671.0,232.3 673.0,232.3 673.0,230.0 674.0,229.0 684.0,228.7ZM599.0,301.0 599.3,300.7 599.7,301.3 599.3,301.7ZM599.3,299.7 599.7,299.3 600.0,300.0 599.7,300.3ZM500.7,280.7 502.0,280.3 502.3,279.7 503.3,281.3 502.7,281.7ZM536.3,275.0 536.7,274.7 537.0,275.3 536.7,275.7ZM502.7,271.0 503.0,270.7 503.3,271.3 503.0,271.7ZM575.3,269.7 575.0,270.3 572.3,270.0ZM562.0,269.7 562.3,269.3 562.7,270.0 562.3,270.3ZM502.3,268.7 502.7,268.3 503.0,269.0 502.7,269.3ZM483.7,267.0 484.0,266.7 484.3,267.3 484.0,267.7ZM502.0,266.7 502.3,266.3 502.7,267.0 502.3,267.3ZM502.7,264.3 503.0,264.0 503.3,264.7 503.0,265.0ZM561.3,264.0 561.7,263.7 562.0,264.3 561.7,264.7ZM529.7,262.7 530.0,264.0 531.0,264.3 529.7,266.3ZM543.0,272.0 543.7,271.7 544.0,258.3 544.3,263.7 561.3,263.3 544.3,265.3 544.3,272.0ZM504.0,258.3 504.3,261.7 503.3,264.0 503.0,262.3ZM529.3,258.0 530.3,259.0 531.0,262.7 529.7,262.3ZM478.7,256.0 479.0,258.3 481.0,263.0 482.0,264.0 481.7,264.7 479.7,263.0 477.3,258.7ZM479.7,253.7 480.0,253.3 480.3,254.0 480.0,254.3ZM480.7,252.0 481.0,253.0 480.3,253.7 480.0,253.0ZM541.7,251.0 542.0,250.7 542.3,251.3 542.0,251.7ZM526.3,250.0 528.7,256.3 528.3,257.3 527.0,256.0 526.0,251.0ZM525.3,247.0 525.7,246.7 526.0,247.3 525.7,247.7ZM504.7,246.7 505.3,253.3 504.3,258.3 504.0,253.7ZM537.0,228.0 549.0,227.7 551.0,228.3 549.3,228.7 549.0,231.3 548.7,228.3ZM554.0,227.7 552.0,228.3 551.3,228.0 553.0,226.7ZM536.0,225.7 536.3,225.3 536.7,226.0 536.3,226.3ZM535.7,223.7 536.0,223.3 536.3,224.0 536.0,224.3ZM177.0,159.0 163.3,157.3 157.7,188.7 157.3,197.0 158.7,197.0 159.3,194.7 165.7,192.3 168.0,189.0 167.0,182.0 170.0,175.7 175.0,175.3 176.3,170.7ZM92.0,141.3 90.7,141.3 89.0,147.0 89.0,149.0 93.7,149.3 95.7,150.3 93.7,154.7 89.0,157.0 88.3,158.0 87.7,165.7 89.0,169.0 86.0,171.0 84.7,173.0 83.3,177.7 83.7,185.3 80.3,189.3 78.7,193.0 72.0,198.7 69.3,202.7 69.3,211.7 70.3,217.3 68.3,218.0 59.3,234.3 58.3,244.0 55.0,252.0 50.7,259.0 51.0,260.7 55.0,262.3 57.0,262.3 57.7,264.3 57.0,272.7 56.3,273.7 52.3,275.0 52.0,279.0 55.3,280.0 60.3,283.7 62.7,290.0 64.0,296.7 67.0,298.3 69.0,298.3 73.0,295.3 77.0,289.0 76.3,279.3 64.3,259.0 62.3,258.0 64.7,256.3 66.7,249.7 69.7,233.7 73.0,227.3 73.0,218.7 78.0,218.3 79.7,203.7 83.0,199.0 83.7,190.3 85.3,183.7 89.0,178.3 90.7,171.7 94.0,170.0 95.3,164.0 98.7,161.0 100.0,155.7 104.0,153.0 105.0,147.7 105.0,144.7ZM924.0,135.0 918.7,134.3 914.0,139.3 910.7,140.7 909.7,140.3 907.7,137.0 905.3,137.3 901.7,148.0 898.7,159.0 900.3,178.3 897.7,185.3 896.7,190.7 893.7,193.0 891.7,195.7 888.7,196.7 888.7,198.0 894.7,204.3 900.0,214.7 901.3,214.7 904.0,208.7 910.7,198.7 939.7,169.0 939.7,167.7 929.7,138.3 928.7,137.0Z"/>
<path fill="#8cff78" fill-rule="evenodd" d="M296.3,570.7 296.3,572.0 300.3,576.0 304.0,583.3 317.7,596.3 327.0,603.7 331.0,612.0 332.0,619.0 335.3,627.3 341.0,633.0 356.0,642.0 362.0,643.0 366.3,639.3 369.7,630.3 374.3,625.0 379.0,623.7 384.0,625.3 391.0,625.0 390.3,616.3 392.0,607.7 390.3,604.3 386.7,600.0 380.0,597.0 379.3,596.0 379.7,573.7ZM651.7,549.0 635.3,551.0 636.0,560.0 635.0,566.3 636.3,575.3 637.7,578.7 638.3,586.0 640.0,587.3 629.3,587.7 630.3,594.7 634.7,601.3 640.0,601.7 648.3,599.3 654.7,598.3 657.0,596.7 656.3,586.3 655.0,586.0 656.0,585.7 656.0,582.0ZM304.7,493.3 303.7,513.3 303.0,514.3 298.3,516.7 298.0,520.3 302.7,519.7 306.7,523.7 303.7,531.0 304.3,533.3 306.3,533.0 310.0,530.0 311.7,525.0 312.3,524.3 312.7,524.7 313.7,541.0 312.7,551.0 313.7,560.7 316.7,561.7 319.0,561.7 323.0,558.7 322.0,549.0 323.0,533.7 321.3,526.3 322.7,517.0 325.3,506.3 324.7,493.7 318.0,494.3 307.3,494.3 306.3,493.3ZM193.3,444.3 191.0,449.3 190.0,456.7 177.3,463.3 175.3,472.0 175.7,475.3 180.7,477.7 180.3,479.7 181.7,479.7 182.0,478.3 188.7,483.0 191.7,488.3 197.0,491.3 201.7,496.3 204.7,498.0 205.3,499.0 205.3,504.0 212.3,506.0 218.7,509.7 219.3,510.7 220.3,516.3 231.0,517.7 232.0,518.7 232.7,527.7 234.3,527.7 243.3,524.7 251.7,523.7 254.0,503.7 258.7,451.0ZM187.7,434.7 184.0,432.7 177.7,433.3 174.3,434.7 169.3,435.0 168.3,436.3 168.0,440.7 185.7,442.7 187.7,436.7ZM730.3,374.0 720.7,376.7 721.7,382.3 717.7,385.7 716.7,395.3 713.0,394.0 707.3,390.3 703.3,389.0 701.0,389.0 695.3,397.0 688.3,400.0 686.7,407.7 682.0,408.3 677.3,416.0 673.3,415.3 671.3,415.7 668.7,420.3 670.3,431.3 667.0,436.0 667.0,437.3 668.7,442.3 673.7,448.7 675.7,449.7 650.7,454.7 646.0,455.7 644.3,468.3 647.0,477.0 645.3,490.0 651.0,490.0 651.3,505.3 653.3,506.0 651.7,506.3 652.0,536.7 654.3,536.7 660.3,535.0 663.0,535.0 669.0,536.3 678.0,539.7 683.0,547.7 684.7,547.7 689.0,545.7 689.7,541.0 687.7,537.7 689.0,537.3 688.3,532.3 689.3,531.3 689.3,530.0 681.0,531.7 680.7,533.0 678.7,532.0 676.3,529.3 677.3,528.7 677.7,526.7 675.0,526.7 674.7,527.3 672.3,525.0 675.3,517.3 674.7,505.0 669.7,504.7 681.3,503.7 682.0,498.0 685.3,495.0 684.0,487.0 682.0,486.7 683.7,486.3 683.0,475.3 686.3,469.0 685.0,461.0 690.3,455.7 694.3,449.0 694.3,447.3 693.7,447.3 693.7,446.7 701.0,445.7 700.7,440.0 704.3,431.7 704.3,430.0 705.7,429.7 713.0,422.3 715.0,415.0 720.0,411.7 723.0,405.7 723.0,398.7 721.7,398.3 723.7,397.7 726.3,394.0 729.7,391.7 738.0,397.0 739.7,397.0 741.7,395.3 743.7,390.7 743.0,383.7 740.0,383.3 738.7,380.0 733.3,379.0ZM694.0,412.0 694.3,411.3 695.0,411.7 694.3,412.3ZM259.3,450.3 295.7,453.7 305.0,454.0 305.0,452.0 303.0,446.0 299.7,442.0 297.3,440.3 292.7,439.0 286.7,435.7 293.3,433.0 300.7,431.3 307.0,424.7 309.0,424.0 311.7,422.0 311.7,420.7 310.3,419.3 310.3,412.7 308.0,407.0 309.0,402.0 312.0,400.3 316.0,399.7 316.7,402.0 323.0,413.3 326.3,412.7 335.3,408.3 340.3,408.7 359.7,403.0 366.7,395.0 368.3,395.3 371.3,375.7 377.0,369.7 381.0,368.0 381.0,366.7 308.7,363.3 308.7,371.0 308.0,364.3 307.3,363.0 268.7,359.3ZM453.7,348.7 422.0,349.7 421.7,373.3 420.3,357.3 391.0,358.3 390.3,388.7 422.0,388.3 422.0,383.7 424.7,379.7 424.7,378.3 421.7,373.7 422.0,373.3 446.3,373.3 454.3,371.7ZM762.3,328.7 760.3,328.7 753.3,331.0 746.0,331.7 745.3,346.3 746.7,351.7 762.0,349.7 763.3,350.0 762.3,350.3 763.7,359.7 760.3,366.3 755.3,373.0 750.3,377.7 750.7,379.3 752.7,379.3 757.7,375.7 764.7,365.3 769.7,359.7 767.7,349.7 767.0,349.3 767.0,346.3ZM135.0,317.3 133.7,335.0 130.3,347.0 128.3,348.0 123.3,349.0 118.7,357.7 117.7,366.3 113.7,371.0 111.3,377.3 111.3,379.0 141.0,385.3 150.7,394.3 157.0,398.3 170.3,401.0 173.3,401.0 176.7,377.0 181.7,349.7 184.7,325.0 137.7,317.3ZM484.3,273.7 443.0,275.0 443.0,298.0 447.3,298.3 443.0,298.7 443.3,320.3 451.3,320.3 456.0,323.0 459.0,323.7 470.7,322.3 478.7,325.7 482.7,328.0 484.3,328.0 483.7,324.3 484.7,315.3 483.3,308.7 484.7,307.0 484.7,297.3 480.0,297.0 484.7,296.7ZM348.7,271.3 345.3,276.3 340.7,280.3 333.3,282.3 330.0,288.7 328.7,296.7 328.7,300.0 329.3,300.3 327.7,301.0 326.0,302.7 322.7,307.7 322.0,316.7 329.3,321.3 338.0,323.7 346.3,328.0 353.7,334.0 357.0,334.7 357.0,332.7 357.7,332.7 356.0,363.7 390.3,365.3 391.3,319.7 385.3,319.3 400.3,319.3 400.3,285.3 388.7,285.0 370.7,283.3 366.0,283.3 365.7,284.0 364.7,283.3 359.0,282.7 358.7,272.0ZM358.3,306.0 358.7,309.0 359.7,310.3 358.7,310.7 358.7,318.0 362.7,318.3 358.7,318.7 358.3,319.3ZM358.7,283.3 358.7,305.0 358.0,293.3ZM613.0,271.0 587.7,273.7 589.3,296.3 611.3,295.0 612.0,279.3ZM259.3,274.0 258.7,279.0 262.0,285.3 262.3,288.7 267.0,289.7 278.3,298.3 284.3,301.3 292.0,303.0 303.7,303.0 306.3,298.0 306.3,286.0 303.0,278.3 298.3,273.3 300.7,270.0 300.7,268.3 280.0,267.0 278.0,270.3 271.7,272.7 263.0,271.0ZM828.0,238.3 822.3,237.7 817.3,243.0 817.3,244.3 820.3,247.0 822.0,250.0 820.7,250.3 820.7,253.7 822.7,253.7 822.3,256.3 821.7,256.3 821.7,255.3 820.3,255.3 819.0,257.3 818.7,259.3 819.3,259.7 814.3,262.7 812.3,264.7 798.3,269.3 780.3,272.3 777.3,274.7 777.7,276.3 783.3,280.0 782.0,286.3 778.7,291.3 770.3,300.0 770.3,301.7 767.7,302.7 758.7,310.0 762.3,327.7 776.3,325.3 779.3,327.0 784.0,328.0 791.7,327.3 791.7,323.0 791.0,322.0 787.3,320.0 786.7,315.3 790.7,311.3 803.3,308.7 810.0,308.7 807.3,299.7 804.7,299.7 781.7,303.7 781.3,294.0 783.7,291.3 789.7,289.0 789.0,285.0 797.0,278.7 802.0,277.0 805.0,273.3 810.7,272.0 813.7,268.7 816.0,268.0 818.0,266.0 818.3,267.0 819.7,267.0 824.3,264.3 828.7,263.3 828.7,260.7 827.7,260.3 828.0,257.7 827.3,253.3 829.3,253.0 829.7,246.3 828.3,245.3 829.0,244.7 829.0,241.0ZM770.0,302.7 770.3,302.3 770.7,303.0 770.3,303.3ZM693.7,242.0 687.7,240.0 681.7,239.3 676.7,237.3 675.3,237.3 675.0,238.0 674.7,236.7 673.3,236.0 671.0,236.0 670.0,237.3 669.3,242.7 664.7,247.7 661.0,250.3 660.0,255.0 662.3,255.3 660.0,256.0 660.3,258.0 659.0,258.0 655.7,260.0 652.7,264.3 653.3,271.7 652.7,272.7 652.7,275.0 651.7,275.7 651.0,277.7 651.0,290.7 654.3,295.3 656.7,300.3 662.0,299.7 670.3,294.7 668.7,286.3 668.0,273.3 667.3,273.3 667.3,272.7 678.0,271.3 678.3,270.3 678.7,271.0 695.7,270.0 696.0,271.7 697.3,271.7 697.3,270.3 695.7,270.0 699.0,269.7 699.7,269.0 701.3,264.0 701.3,262.0 700.0,256.7 697.3,252.0 698.7,249.7 698.7,248.3ZM662.7,259.3 664.0,259.3 663.3,260.0ZM433.7,180.0 434.3,193.3 438.7,196.0 440.3,200.7 447.0,202.7 449.3,207.0 449.3,209.7 475.0,209.0 477.0,223.0 477.7,235.0 479.7,235.0 486.7,232.7 503.0,232.0 503.3,228.7 509.3,228.7 510.3,229.7 511.0,236.7 513.0,238.3 514.7,238.3 515.3,229.7 516.3,228.7 524.0,228.0 524.3,224.7 525.7,222.7 535.3,221.3 533.3,185.7 527.7,185.3 524.3,187.3 522.3,185.3 513.3,184.3 507.7,182.7 506.7,180.3 505.0,169.3 500.3,169.3 500.0,178.3 469.0,179.7 459.7,179.3ZM470.0,187.7 470.3,187.3 470.7,188.0 470.3,188.3ZM469.7,185.3 470.0,185.0 470.3,185.7 470.0,186.0ZM469.3,183.3 469.7,183.0 470.0,183.7 469.7,184.0ZM469.0,181.0 469.3,180.7 469.7,181.3 469.3,181.7ZM957.3,180.0 954.7,177.7 949.0,177.0 948.0,176.0 946.0,169.3 939.3,168.7 911.3,197.7 904.7,207.7 901.0,216.7 894.0,203.3 889.3,198.3 888.0,198.3 888.0,204.0 889.7,214.7 886.3,219.3 884.3,231.7 884.7,233.3 883.7,233.7 883.7,235.0 885.0,235.0 885.3,233.7 888.7,236.0 891.0,238.7 894.0,238.3 895.0,232.7 901.3,217.3 905.3,225.0 908.7,233.3 910.0,233.7 910.0,236.3 912.3,241.0 914.0,241.3 915.0,239.3 915.7,233.3 917.3,229.0 918.0,224.3 924.3,215.7 928.0,216.0 929.0,213.7 932.3,211.7 932.3,206.7 933.7,203.3 933.7,202.0 932.7,201.7 934.3,200.3 934.7,201.3 937.3,201.3 939.7,202.7 941.3,202.7 946.3,194.7 951.3,193.0 954.0,188.7 958.0,186.3 959.0,184.7 958.7,182.0 957.3,181.3ZM130.0,151.0 128.7,157.0 129.7,167.7 132.3,176.3 136.7,181.7 145.3,188.0 138.7,201.3 131.0,212.7 131.0,214.0 134.0,221.3 153.0,224.3 153.7,214.7 154.7,213.7 156.3,198.3 157.0,198.3 157.0,199.7 158.3,199.7 158.3,197.0 156.7,196.7 157.0,190.0 163.0,157.0ZM44.3,144.7 44.0,154.7 46.0,176.0 44.7,177.7 45.0,183.0 43.7,186.0 44.0,194.0 46.0,197.0 42.3,203.3 38.3,220.0 38.0,219.0 36.7,219.0 35.3,221.0 34.7,223.0 34.7,224.7 35.3,225.0 33.3,227.0 31.3,234.0 25.7,248.0 19.0,262.0 15.0,268.3 13.7,273.7 13.3,278.7 14.3,290.7 20.7,291.7 21.0,290.3 21.3,292.0 45.3,297.0 46.7,297.0 47.0,296.0 47.3,297.3 72.0,304.0 115.0,312.0 122.0,269.0 122.0,265.7 111.0,262.3 109.7,261.3 106.3,253.0 105.7,246.7 109.7,242.7 110.0,240.7 111.7,240.7 116.3,237.3 126.7,231.7 131.7,222.7 131.7,221.3 122.3,220.3 106.0,220.3 96.0,221.0 86.3,219.7 88.7,219.3 93.7,214.0 93.7,212.7 90.7,206.3 93.0,202.0 98.0,197.3 99.0,190.0 104.7,186.7 103.3,179.0 106.3,176.7 105.3,170.3 108.3,166.7 111.7,167.7 113.0,162.0 120.7,150.0 120.7,148.7 108.0,145.3 105.7,145.3 104.0,153.3 100.0,156.0 99.0,160.7 95.7,163.3 94.0,170.0 90.7,171.7 89.3,178.0 85.7,183.3 84.3,188.7 83.7,198.0 80.3,202.7 78.3,219.0 73.7,219.0 73.7,226.3 70.0,233.7 70.0,235.7 71.0,236.0 69.7,236.3 65.7,254.7 63.7,256.7 63.7,258.0 76.7,279.7 77.3,283.0 77.3,288.7 73.7,294.7 68.0,299.0 64.0,296.7 60.0,283.7 56.0,280.7 53.7,279.7 52.0,279.7 51.3,278.3 52.0,275.0 56.3,273.3 57.0,263.3 50.7,260.7 47.3,260.3 50.0,260.0 55.0,251.7 58.0,244.0 58.7,235.3 68.3,218.3 68.3,217.0 69.7,216.7 68.7,210.0 68.7,203.7 72.0,198.7 78.3,193.3 79.7,190.3 83.0,186.3 82.7,178.3 84.3,172.7 85.7,171.0 88.3,169.3 88.3,167.7 87.0,164.7 88.0,158.0 88.7,157.0 93.3,155.0 95.0,151.3 95.0,150.0 90.3,149.7 88.3,148.7 90.0,143.0 89.7,140.7 79.3,138.0 77.0,138.0 78.7,145.3 79.0,150.0 77.3,164.0 79.0,163.7 79.3,164.3 76.3,168.0 76.0,166.0 73.7,166.7 74.0,169.7 76.0,169.7 75.7,172.7 75.0,172.7 75.0,171.7 73.7,171.7 73.7,174.0 71.7,174.0 63.7,184.7 61.0,186.7 60.0,185.0 60.0,183.3 64.7,173.7 70.3,168.0 73.0,166.7 72.7,162.3 73.3,155.0 72.0,152.3 70.0,152.3 67.0,153.7 60.3,152.7 56.0,150.3 54.3,150.3 54.0,151.0 53.0,148.7 48.3,145.0ZM21.0,289.3 21.3,289.0 21.7,289.7 21.3,290.0ZM21.3,288.0 21.7,287.7 22.0,288.3 21.7,288.7ZM34.7,250.7 36.3,252.3 35.3,253.3 34.3,251.3ZM44.0,224.3 44.3,224.0 44.7,224.7 44.3,225.0ZM44.3,222.0 44.7,221.7 45.0,222.3 44.7,222.7ZM37.7,220.7 38.0,220.3 38.3,221.0 38.0,221.3ZM54.3,197.7 55.0,199.0 54.7,200.0 53.3,199.0ZM53.0,178.7 53.3,178.3 53.7,179.0 53.3,179.3ZM43.3,129.7 43.3,135.3 44.0,138.3 48.7,140.7 55.0,145.0 63.3,148.3 69.3,149.3 71.7,147.3 72.3,144.7 72.0,136.7 47.3,129.3Z"/>
<path fill="#ffff00" fill-rule="evenodd" d="M732.0,512.3 729.7,511.0 728.3,511.0 720.7,514.0 717.3,507.3 707.0,507.7 706.7,508.7 704.0,500.7 702.7,500.7 701.0,505.7 700.3,511.3 693.7,527.0 690.0,530.3 689.7,529.7 688.3,529.7 688.3,531.0 689.0,531.3 688.7,533.7 690.3,543.0 691.0,543.3 689.7,543.7 689.7,545.3 697.3,544.7 698.0,544.0 698.0,542.7 697.3,542.7 697.3,542.0 708.3,540.0 711.3,540.0 711.3,540.7 709.0,540.7 710.0,549.0 708.7,552.0 703.3,554.3 696.0,553.7 692.7,557.0 684.0,557.0 673.0,553.3 670.0,553.0 668.0,557.7 662.0,559.7 661.7,558.0 660.0,557.7 660.3,554.3 653.0,554.3 656.3,582.0 665.3,580.7 668.3,577.3 671.7,581.7 673.7,581.7 721.3,574.0 720.3,561.7 716.7,541.3 717.0,541.0 719.7,543.7 730.7,543.7 738.7,540.0 738.0,536.0 733.0,524.7ZM717.0,540.0 713.0,540.0 716.0,539.7 716.3,538.7ZM698.0,485.0 698.0,488.0 700.0,493.7 701.3,493.7 699.3,485.0ZM175.0,476.3 171.3,506.3 163.7,553.3 178.3,562.3 206.0,577.0 246.3,580.7 251.7,524.3 242.7,525.3 232.3,528.7 231.3,518.3 220.7,517.0 219.7,516.0 219.0,510.7 218.0,509.3 214.0,507.0 208.0,505.0 205.0,504.7 204.7,498.3 202.0,496.7 197.3,491.7 192.0,488.7 188.7,483.3 181.7,480.7 182.0,478.7 180.7,478.7 180.0,479.7 176.3,476.3ZM220.7,535.3 220.7,538.7 220.3,536.7 219.3,536.3ZM205.3,512.3 205.0,515.3 204.7,514.3 202.0,514.0 204.7,513.7 204.7,512.3ZM871.3,433.3 871.3,434.7 873.7,434.7 873.7,433.3ZM19.7,391.3 18.7,400.7 21.7,408.3 26.0,413.7 26.7,418.3 23.7,420.7 25.0,428.0 32.3,448.3 38.7,459.3 40.7,459.3 48.3,456.3 51.7,457.7 53.3,457.7 53.7,459.0 61.0,466.3 70.3,470.7 75.3,471.3 81.7,466.7 86.3,459.0 90.3,450.7 89.7,436.7 88.3,428.7 80.3,406.7 86.3,404.3 86.7,403.0 87.7,404.7 112.7,431.0 114.3,431.0 116.7,428.7 132.0,443.7 135.0,448.3 134.3,453.7 136.0,455.0 137.7,455.0 139.7,453.3 138.7,445.3 141.7,441.7 146.3,441.3 147.3,430.3 147.7,431.0 151.7,430.3 152.0,429.0 153.3,430.0 155.3,429.7 155.7,430.3 157.0,430.3 158.7,429.0 160.0,430.3 159.3,436.7 161.3,438.3 163.0,438.3 165.0,435.7 168.7,434.7 173.0,401.7 155.7,398.7 142.3,386.0 112.0,379.3 90.3,376.0 88.7,377.3 87.7,388.3 86.7,389.3 79.3,390.3 79.0,391.0 71.3,379.0 70.0,379.0 69.7,379.7 69.0,378.0 59.7,376.0 48.7,376.0 42.0,381.3 35.3,388.3 35.0,389.3 30.7,387.3 24.7,387.0 21.0,389.3ZM36.0,396.3 36.3,396.0 36.7,396.7 36.3,397.0ZM35.0,390.7 35.3,390.3 35.7,391.0 35.3,391.3ZM266.7,368.0 249.0,369.0 242.3,370.7 244.3,382.7 242.7,384.3 242.7,385.7 247.7,391.3 252.3,392.7 254.7,392.7 260.7,391.3 265.0,389.0ZM849.0,342.7 822.7,348.0 822.7,357.7 815.3,361.7 810.3,359.7 809.0,359.7 807.0,368.0 803.7,375.0 800.0,376.0 797.3,384.0 793.3,383.7 792.0,383.0 793.3,382.7 794.7,369.3 793.7,366.7 791.7,366.7 789.3,368.3 788.3,366.3 787.3,358.3 784.0,358.3 784.3,365.0 782.3,370.7 773.7,383.0 766.7,388.3 760.3,401.0 759.3,407.0 758.3,407.3 756.7,409.3 756.7,410.7 757.7,411.0 748.7,419.3 733.7,438.0 732.0,439.0 732.3,441.0 715.3,444.0 714.3,454.7 707.0,462.7 702.3,470.7 700.0,484.3 717.0,482.3 720.0,478.3 720.3,479.0 721.7,479.0 721.7,477.7 721.0,477.3 732.7,465.7 738.7,461.3 744.3,453.0 757.3,446.3 759.7,444.0 761.7,437.3 761.7,435.7 760.0,435.7 760.0,435.0 781.7,432.0 782.0,430.7 782.3,431.7 815.7,425.0 816.0,419.7 816.3,424.3 818.7,424.3 830.3,421.7 831.0,422.0 830.3,433.3 829.0,437.0 829.0,438.7 836.7,438.0 849.7,438.0 856.7,436.3 864.7,435.3 868.7,434.3 871.3,432.3 871.0,430.0 874.0,430.3 873.3,427.0 869.7,424.3 870.3,424.0 870.3,422.7 866.3,418.0 865.0,413.3 860.3,414.0 833.0,421.7 832.3,421.3 835.0,409.3 836.3,396.0 835.3,386.0 830.3,380.3 839.3,377.7 839.3,376.3 838.0,374.7 836.3,374.7 833.3,376.7 831.0,374.3 829.3,374.0 832.0,370.7 833.0,364.7 835.7,363.7 838.3,368.3 843.3,371.3 848.0,372.3 848.0,371.0 846.3,369.7 842.3,360.0 840.7,357.0 839.3,356.7 843.0,351.0 849.0,344.0ZM782.3,428.3 782.7,428.0 783.0,428.7 782.7,429.0ZM782.7,427.0 783.0,426.7 783.3,427.3 783.0,427.7ZM862.7,424.7 863.7,426.0 862.0,426.7 861.7,426.3ZM858.3,422.3 858.7,423.3 858.0,423.7 857.7,423.0ZM862.7,422.3 864.0,422.3 863.3,423.3ZM859.7,420.0 858.7,421.7 857.3,420.7 859.3,419.7ZM760.0,408.3 760.3,408.0 761.0,408.7 760.3,409.0ZM783.7,398.0 785.7,398.0 785.3,401.0 785.0,398.7 783.7,398.7ZM785.3,397.0 785.7,396.7 786.0,397.3 785.7,397.7ZM815.7,386.3 816.0,386.7 815.3,387.7 815.0,386.7ZM807.0,384.7 807.3,384.3 808.7,385.3 807.3,385.7ZM806.3,379.0 806.7,378.7 807.0,379.3 806.7,379.7ZM827.0,377.0 827.7,378.0 827.3,378.3 826.3,378.0ZM852.7,340.3 852.7,342.3 855.0,348.7 856.3,349.0 855.3,350.0 852.0,350.0 848.3,351.0 847.7,355.7 849.0,358.0 848.7,362.3 850.7,365.0 850.3,369.0 851.7,371.7 854.3,373.3 857.3,374.0 860.3,379.3 862.3,379.3 868.3,376.3 870.0,368.7 870.0,366.3 868.7,366.0 870.7,365.3 871.0,363.3 868.7,359.3 864.7,356.3 860.3,351.3 859.3,349.3 856.3,348.7 854.7,340.3ZM78.7,305.7 77.7,319.3 69.3,327.3 57.3,334.7 57.3,336.0 61.0,342.3 67.0,348.7 70.3,354.3 71.3,354.7 68.0,358.7 65.0,360.7 64.3,367.3 67.7,373.3 69.0,373.3 72.3,358.0 72.7,354.7 71.7,354.0 74.3,350.0 76.7,343.0 79.7,326.7 84.0,306.7ZM401.0,303.3 401.0,319.3 442.7,320.0 442.7,310.0 433.0,309.3 432.0,308.7 430.0,305.0 414.3,304.3 411.3,302.3 407.3,301.0 406.0,301.0ZM905.0,271.0 903.0,271.0 885.7,275.7 885.3,276.7 885.0,276.0 876.0,277.3 878.0,289.7 879.3,290.0 876.3,296.7 876.3,298.0 879.0,298.0 886.7,293.3 893.0,288.3 900.0,285.7 906.7,281.3 907.0,278.7ZM830.7,265.0 831.7,271.7 828.0,274.7 828.0,276.7 830.0,281.0 830.0,283.3 829.3,286.3 827.7,288.3 827.7,289.7 837.0,290.3 843.3,289.3 847.3,293.7 846.0,294.0 841.0,300.0 842.3,305.7 835.0,308.3 835.0,309.7 838.0,313.7 839.3,314.0 837.3,315.7 833.0,324.0 833.0,325.3 834.3,325.7 831.7,327.0 829.7,333.3 829.7,335.3 836.7,339.7 850.7,341.7 851.7,341.0 852.0,339.3 857.0,339.7 861.7,335.0 866.0,327.3 866.0,325.3 858.7,319.3 857.0,318.7 856.7,313.3 854.7,313.0 855.7,312.7 858.7,302.0 858.3,300.3 859.7,300.0 861.7,298.3 864.7,290.7 865.3,280.7 863.0,273.3 861.7,265.7 860.3,265.7 858.0,267.0 848.7,266.0 842.0,267.7 835.3,267.0 832.0,265.0ZM912.0,247.3 911.7,251.0 909.7,251.0 909.7,252.7 911.3,253.0 911.0,257.3 913.7,265.0 912.7,267.7 913.3,275.7 914.7,275.7 915.3,274.7 919.3,273.3 923.3,275.7 924.7,279.0 926.7,279.0 928.3,277.7 929.0,273.3 933.7,271.7 936.7,267.3 935.3,262.7 933.7,262.7 931.0,265.0 925.7,266.7 916.7,255.7 918.3,252.0 918.3,250.3 913.3,247.3ZM848.3,215.3 848.0,217.0 856.7,234.3 859.7,243.3 861.0,250.3 862.7,250.3 865.3,248.0 867.3,243.3 871.7,247.7 873.7,253.3 875.0,260.0 885.7,258.0 884.7,252.0 883.7,237.7 882.3,237.7 881.3,242.7 875.7,248.3 875.7,249.7 875.0,249.7 874.7,245.3 869.7,223.3 867.7,209.3 859.3,211.0 859.0,212.0 857.0,211.7ZM863.7,236.0 864.0,235.7 864.3,236.3 864.0,236.7ZM862.7,227.0 863.0,226.7 863.3,227.3 863.0,227.7ZM859.7,219.3 860.0,219.0 860.3,219.7 860.0,220.0ZM104.0,180.0 105.0,186.7 99.3,190.0 98.7,196.0 93.7,201.0 91.0,206.0 91.0,207.3 94.0,213.3 89.3,218.3 89.3,219.7 94.7,220.3 120.7,219.7 133.0,221.0 130.7,213.3 138.0,202.3 140.0,198.0 140.0,196.3 136.7,193.3 129.3,189.7 124.7,185.7 116.3,183.3 108.7,182.0 105.3,180.0Z"/>
<path fill="#ffc800" fill-rule="evenodd" d="M749.3,578.3 725.7,580.3 724.7,579.7 722.0,574.7 720.0,574.3 672.7,582.0 672.7,584.0 675.0,593.3 681.7,593.0 690.0,591.3 700.0,590.3 712.0,595.0 718.3,599.3 719.3,600.7 720.0,603.7 730.0,601.7 738.3,597.3 740.7,594.3 746.7,590.3 749.3,580.7ZM830.3,422.3 784.0,431.7 783.3,432.7 781.3,432.3 762.7,435.3 760.7,442.3 759.7,443.3 760.0,445.3 744.0,453.3 738.7,461.3 731.0,467.0 724.0,474.0 722.0,478.7 720.0,480.3 720.3,482.0 717.7,482.7 717.7,507.7 720.3,513.3 722.3,513.3 729.0,510.7 730.0,509.7 730.3,511.3 732.3,512.3 733.7,525.7 738.3,536.0 739.3,540.0 748.0,541.3 752.3,544.3 754.3,544.3 758.0,541.7 764.0,542.7 767.3,542.3 768.0,532.7 762.7,525.7 756.3,505.7 762.0,503.0 762.3,501.3 755.0,490.7 753.3,490.7 752.3,489.3 752.7,488.7 754.0,489.7 755.3,489.7 762.0,487.0 769.0,488.0 771.3,483.7 776.0,481.0 776.7,479.7 777.0,481.3 780.0,486.7 782.0,487.0 780.0,487.7 780.3,490.0 778.7,495.7 784.3,502.0 784.3,505.0 794.3,508.7 795.7,508.7 804.0,505.0 808.0,500.7 808.3,498.7 808.7,500.0 822.7,503.7 824.7,503.7 824.7,498.7 832.0,484.0 832.0,482.7 808.7,467.3 814.7,454.0 814.7,452.7 814.0,452.3 817.3,449.0 823.7,447.7 826.3,443.3 826.3,441.7 823.3,440.3 828.3,438.7 829.7,434.0ZM807.0,489.0 807.3,488.7 807.7,489.3 807.3,489.7ZM749.7,484.7 751.7,487.7 751.3,488.0 750.3,487.7 748.7,485.7ZM742.7,479.0 742.7,480.7 741.7,480.0ZM733.0,479.3 734.3,479.0 734.7,480.0 734.3,480.3ZM745.7,476.0 745.7,477.7 743.3,478.7 743.0,477.3 742.3,477.0ZM789.7,470.3 790.3,470.0 792.0,471.0 796.0,471.0 794.0,471.7 793.7,472.3 793.3,471.7 791.3,471.7ZM766.0,467.0 761.0,470.7 752.7,474.0 751.7,473.7 765.3,466.7ZM775.3,466.3 775.7,466.7 775.0,467.7 774.7,466.7ZM768.7,458.0 769.0,457.7 769.3,458.3 769.0,458.7ZM769.7,455.7 770.7,455.3 771.0,456.3 792.7,456.7 770.0,457.0ZM771.0,452.0 771.3,451.7 771.7,452.3 771.3,452.7ZM771.3,449.7 771.7,449.3 772.0,450.0 771.7,450.3ZM784.7,442.3 785.0,442.0 786.0,442.7 785.0,443.0ZM784.3,440.3 784.7,440.0 785.0,440.7 784.7,441.0ZM784.0,438.3 784.3,438.0 784.7,438.7 784.3,439.0ZM818.0,437.3 818.7,437.0 819.3,437.7 818.3,438.0ZM783.7,436.0 784.0,435.7 784.3,436.3 784.0,436.7ZM783.3,434.0 783.7,433.7 784.0,434.3 783.7,434.7ZM81.7,406.3 81.3,408.3 88.7,428.3 90.3,438.3 91.0,449.7 82.0,466.3 75.3,472.0 70.3,471.0 62.0,467.0 54.0,458.7 47.7,457.0 39.0,460.3 37.7,465.3 37.0,472.3 39.3,474.7 48.0,476.3 56.3,481.3 61.7,488.3 70.7,492.7 75.0,496.3 75.3,499.0 79.7,500.3 85.3,506.0 89.3,512.0 92.0,518.7 93.3,531.7 106.0,532.7 106.3,531.0 106.7,532.7 144.7,534.7 144.7,535.3 139.3,536.7 138.7,538.7 139.0,540.3 160.7,552.0 163.3,552.7 171.0,503.3 170.3,502.7 163.3,503.7 156.0,502.0 156.0,500.7 153.0,496.0 149.7,481.0 113.0,431.0 88.0,404.7 85.7,404.7ZM147.0,510.3 147.3,510.0 147.7,510.7 147.3,511.0ZM907.7,292.7 906.0,292.7 901.0,295.0 898.3,294.7 897.0,297.0 893.7,299.7 887.3,302.0 882.0,305.7 876.7,308.3 875.3,309.7 875.0,313.7 873.7,313.3 874.7,310.7 874.3,304.0 859.0,301.0 857.0,308.7 857.7,318.3 864.7,322.0 864.7,324.0 866.7,325.7 866.7,326.3 862.0,334.7 857.0,339.3 857.0,341.3 858.3,344.0 864.7,348.7 870.3,348.7 870.7,352.3 872.0,352.3 874.3,346.7 874.3,345.3 873.3,345.0 874.0,342.7 876.0,343.0 878.7,337.3 879.7,326.0 878.7,322.7 877.3,322.7 877.3,323.7 876.7,323.7 876.3,317.3 874.3,317.0 875.0,314.0 879.7,312.3 887.0,306.7 895.7,302.7 899.3,298.7 901.7,298.0 907.3,294.3ZM902.7,286.3 899.3,287.0 891.7,291.0 891.7,292.3 894.0,292.3 902.3,288.7ZM912.0,269.3 905.3,270.3 907.3,280.0 909.0,283.7 911.7,283.3 913.0,279.7Z"/>
<path fill="#ff8c00" fill-rule="evenodd" d="M823.3,504.0 808.0,500.3 803.7,505.3 795.3,509.0 785.0,505.7 782.7,503.7 783.7,502.3 783.7,501.0 778.3,495.0 779.7,490.7 779.7,488.7 778.7,484.3 777.0,481.3 775.3,481.3 771.7,483.3 769.0,488.3 761.0,487.7 755.7,489.7 755.7,491.7 762.7,502.0 763.7,502.7 757.3,505.3 757.3,507.7 763.7,527.3 767.7,532.7 769.3,533.3 768.3,534.3 767.7,545.0 767.0,545.0 767.0,543.3 758.0,542.0 753.0,545.0 748.0,541.7 742.3,540.7 737.7,540.7 729.7,544.3 720.7,544.3 719.0,542.7 717.7,542.7 721.0,563.0 722.0,574.7 724.7,579.3 727.7,579.7 748.3,578.0 749.0,576.0 749.3,577.7 773.0,575.3 773.7,573.0 774.0,575.0 779.3,574.3 780.3,575.3 780.7,577.7 783.3,577.0 783.7,574.0 783.0,569.0 784.0,568.0 792.3,567.7 792.0,563.3 795.3,543.3 797.7,537.0 797.7,535.7 796.3,535.3 799.0,534.7 806.3,523.7 813.0,517.3 816.3,512.0 823.3,505.3ZM742.7,566.3 743.0,566.0 743.3,566.7 743.0,567.0ZM741.7,560.7 742.0,560.3 742.3,561.0 742.0,561.3ZM740.7,555.0 741.0,554.7 741.3,555.3 741.0,555.7ZM740.3,553.0 740.7,552.7 741.0,553.3 740.7,553.7ZM789.7,530.3 790.0,530.0 790.7,531.0 790.0,531.3ZM776.7,511.3 777.7,511.0 778.0,511.7 777.7,512.0ZM869.0,442.0 867.3,442.3 867.0,441.3 861.0,441.7 860.7,441.3 862.3,439.7 862.3,438.3 858.0,437.0 855.3,437.0 848.3,438.7 835.3,438.7 826.3,439.7 826.3,441.0 827.3,441.7 823.7,448.0 816.7,449.7 810.0,465.0 809.7,467.7 832.0,482.3 836.0,482.7 841.0,481.3 843.3,480.0 844.7,473.7 849.7,464.3 852.3,461.3 852.3,460.0 854.0,459.7 857.3,456.3 866.3,455.0 867.0,454.3 867.0,451.7 868.3,450.3 868.3,449.0 865.7,447.0 867.7,446.3ZM865.0,446.3 865.3,446.0 865.7,446.7 865.3,447.0Z"/>
<path fill="#ff1e00" fill-rule="evenodd" d="M830.7,641.3 830.3,643.3 834.3,653.3 837.0,666.7 837.0,679.7 834.3,691.3 832.7,693.7 832.7,695.3 834.0,695.3 843.3,691.7 845.3,689.0 844.7,682.7 843.0,679.7 843.7,676.7 843.0,664.3 842.0,655.7 840.0,648.7 835.3,642.0ZM804.3,594.7 803.7,591.0 802.0,587.3 799.7,584.7 793.0,568.3 783.7,568.7 784.3,576.0 783.7,577.0 781.0,578.3 780.0,576.7 780.0,575.0 750.0,578.3 747.3,589.0 747.3,590.7 753.0,593.7 767.7,608.0 776.7,609.7 780.3,601.3 789.7,596.7 795.3,599.3 797.0,599.3 798.7,597.0Z"/>
<path fill="#d20000" fill-rule="evenodd" d="M789.3,597.0 780.3,601.7 778.3,614.7 778.3,617.7 779.3,621.7 778.7,630.7 779.7,631.0 779.0,631.3 779.0,633.0 780.3,638.7 784.0,641.7 783.7,647.3 787.7,654.0 790.7,657.0 792.3,657.0 792.7,658.3 796.0,659.7 797.3,659.7 799.7,658.3 800.7,660.0 801.7,665.0 807.0,668.7 810.0,678.0 816.0,679.7 821.7,685.0 826.0,693.0 827.7,694.7 832.0,695.0 834.0,691.7 836.3,681.3 836.3,665.3 834.0,653.7 830.0,642.7 829.0,641.7 831.7,640.7 833.7,641.0 833.7,639.3 823.0,623.0 821.7,619.0 820.3,618.7 821.0,618.3 821.0,616.3 820.0,615.7 820.0,614.0 818.0,614.3 816.0,609.0 809.7,601.3 805.7,595.0 803.7,595.0 798.3,597.3 796.7,600.0 790.7,597.0ZM819.0,615.7 819.3,616.0 818.3,617.0 818.0,616.7Z"/>
<path fill="none" stroke="#000" stroke-width="1.7" stroke-linejoin="round" stroke-linecap="round" d="M39.0,217.1 35.8,220.0 33.3,226.7 30.8,235.0 26.6,245.0 22.5,255.0 19.1,261.6 15.0,268.3 13.3,274.9 13.0,283.3 14.2,290.8M14.2,290.8 46.6,297.4 71.6,304.1 114.9,312.4 134.5,316.6 160.0,320.9M14.2,290.8 12.5,298.3 10.0,306.6 6.7,314.9 2.5,321.6 1.7,328.2 5.0,334.9 7.5,341.5 6.7,349.9 5.0,358.2 6.7,366.3M45.0,220.0 44.1,226.7 40.0,230.0 37.5,236.7 34.1,243.3 34.1,250.0 35.8,254.1 30.8,261.6 27.5,270.0 23.3,278.3 20.8,282.4 22.5,285.8 20.7,292.1M34.1,250.0 40.0,255.8 43.3,260.0 50.0,260.3M69.0,217.2 63.3,226.7 59.1,235.0 58.3,243.3 54.9,251.6 50.0,260.3M73.5,218.5 73.3,226.7 69.9,233.3 68.3,241.6 66.6,250.0 64.9,255.8M50.0,260.3 56.6,263.0 63.3,257.5 64.9,255.8M63.3,257.5 66.6,263.3 71.6,271.6 76.6,279.9 77.4,288.3 73.3,294.9 68.3,299.1 64.1,296.6 62.4,289.9 59.9,283.3 54.9,279.9 51.6,279.1 51.9,274.9 56.6,273.3 57.4,263.6 56.6,263.0M51.9,279.2 50.0,283.3 48.3,291.6 46.6,297.4M69.4,235.7 90.7,240.8 91.6,236.7 98.2,236.3 103.2,238.3 110.7,241.3M132.5,221.2 126.5,231.7 116.6,237.5 110.7,241.3 105.7,246.6 106.6,253.3 109.9,261.6 122.4,265.8M122.7,265.4 114.9,312.4M122.4,265.8 126.5,260.0 133.2,259.1 138.2,263.3 144.3,265.4M71.7,304.1 68.3,309.9 59.9,314.9 54.9,318.2 46.6,314.9 38.3,314.1 35.8,319.9 29.1,326.6 25.0,331.6 25.0,339.9 23.3,346.5 25.8,353.2 21.6,358.2 20.0,366.3M78.4,305.4 77.4,319.9 69.9,326.6 62.4,331.6 56.6,334.9 60.8,341.5 66.6,348.2 69.9,353.2 68.3,358.2 64.1,360.7 64.2,366.2M84.3,306.5 79.9,326.6 76.6,343.2 73.3,353.2 70.8,366.2M134.5,316.6 133.2,334.9 129.9,347.4 123.2,349.0 118.2,358.2 117.4,366.4M6.7,366.3 8.3,368.3 11.7,376.6 14.2,383.3 16.7,387.5 20.0,390.0 19.1,393.3 18.3,400.0 21.6,408.3 25.8,413.3 26.6,418.3 23.3,420.8 25.0,428.3 28.3,438.2 32.5,448.2 35.8,454.1 39.1,459.9 37.5,466.6 36.6,471.5 40.0,474.9 48.3,476.5 56.6,481.5 61.6,488.2 69.9,492.4 75.0,496.4M20.0,366.3 25.0,370.0 30.0,374.1 35.0,378.3 35.8,385.0 35.0,389.1M20.0,390.0 25.0,386.6 30.0,387.0 35.0,389.1M35.0,389.1 36.6,398.3 40.0,413.3 45.0,424.9 48.3,436.6 51.6,444.9 53.3,458.2M35.0,389.1 41.6,381.6 49.1,375.8 58.3,375.8 69.3,378.1M68.6,375.0 71.6,388.3 74.9,398.3 77.4,404.9 80.8,406.6 84.9,418.3 88.2,428.3 89.9,438.2 90.7,449.9 86.6,458.2 81.6,466.6 74.9,471.5 69.9,470.7 61.6,466.6 56.6,461.6 53.3,458.2M74.1,350.8 69.9,356.7 64.9,360.0 64.1,366.7 66.6,371.6 68.6,375.0M74.4,349.8 68.6,375.0M68.6,375.0 87.4,404.1 113.2,431.6 149.9,481.5 153.2,496.3M80.8,406.6 87.4,404.1M39.1,459.9 48.3,456.6 53.3,458.2M74.9,471.5 79.9,476.5 84.9,484.9 93.2,487.4 99.9,491.5 106.6,489.9 108.2,493.2 106.5,496.3M122.0,351.2 116.6,358.3 117.4,366.7 113.2,371.6 110.7,379.1M78.6,390.5 87.4,389.1 88.2,377.5 90.7,375.8 99.9,377.5 110.7,379.1 126.5,382.5 141.5,385.8 149.9,393.3 154.8,398.3 160.0,399.0M113.2,431.6 116.6,428.3 124.9,436.6 131.5,443.2 134.9,448.2 134.0,453.2 136.5,455.7 139.9,453.2 139.0,444.9 141.5,441.6 146.5,441.6 147.4,429.9 149.9,427.4 154.8,431.6 159.2,429.1M43.0,129.7 46.7,129.2 55.0,131.7 63.3,134.2 72.5,136.7 72.6,143.3 71.6,147.5 69.1,149.6 63.3,148.3 55.0,145.0 48.3,140.8 44.2,138.3 43.0,134.2ZM77.1,137.5 76.6,138.3 78.3,145.0 78.6,153.3 77.5,161.6 75.8,170.0 74.6,177.4 73.0,176.6 73.6,170.0 73.0,163.3 73.6,155.8 71.6,151.6 67.5,153.3 60.0,152.5 53.3,149.1 48.3,145.0 44.2,144.1 43.7,150.0 44.2,158.3 45.0,168.3 45.8,176.6 44.3,177.6 44.7,183.3 43.3,186.6 43.7,193.3 45.8,196.9M77.1,137.5 106.6,145.0 129.9,150.8 163.2,157.0 189.9,160.6M45.8,196.9 51.6,197.9 55.0,199.9 58.3,201.9 59.6,209.9 61.6,215.2 70.0,217.4 71.6,218.2 83.3,219.9 88.3,219.6 96.6,220.7 109.9,219.9 119.9,219.9 133.2,221.2 153.2,224.6M45.8,196.9 42.5,203.3 40.0,213.2 37.5,223.2 33.1,227.3M53.4,149.2 57.5,158.3 60.0,165.0 56.6,171.6 53.3,178.3 52.5,186.6 53.3,194.9 55.0,199.9M90.8,141.0 88.3,149.1 95.8,150.0 93.3,155.0 88.3,157.5 87.4,165.0 89.1,169.1 84.9,171.6 82.9,178.3 83.3,185.8 80.0,189.9 78.3,193.3 72.5,198.3 69.1,203.3 69.1,209.9 70.5,217.7M105.8,144.8 104.1,153.3 99.9,155.8 99.1,160.8 95.8,163.3 94.1,170.0 90.8,171.6 89.1,178.3 85.8,183.3 84.1,189.9 83.3,198.3 80.0,203.3 79.1,210.7 78.2,219.2M121.2,148.6 117.4,155.8 113.3,161.6 111.6,168.3 108.3,166.6 105.8,170.0 106.6,176.6 103.3,179.1 104.9,186.6 99.1,189.9 98.3,196.6 93.3,201.6 90.8,206.6 94.1,213.2 88.3,219.6M129.9,150.8 128.2,158.3 129.6,168.3 131.9,175.8 136.6,181.6 144.9,187.9M103.3,179.1 108.3,181.6 116.6,183.3 124.9,185.8 129.9,189.9 136.6,193.3 140.7,196.6M144.9,187.9 140.7,196.6 138.2,201.6 134.1,208.2 130.7,213.2 132.4,218.2 134.0,221.4M144.9,187.9 157.4,189.9M163.2,157.0 157.4,189.9 156.5,199.9 153.2,224.6M80.0,163.3 75.0,170.0 68.3,178.3 63.3,184.9 60.8,186.6 60.0,184.1 62.5,178.3 65.0,173.3 70.0,168.3ZM74.9,496.3 75.0,499.1 80.0,500.8 84.9,505.8 89.1,511.6 91.6,518.3 92.4,527.4 93.3,531.9M93.3,531.9 106.6,532.9 144.9,534.9M156.5,502.0 149.9,505.0 147.4,510.0 146.6,515.8 142.4,520.0 141.6,526.6 144.9,529.9 144.9,534.9 139.1,536.6 138.2,539.9M138.2,539.9 163.2,553.3 189.7,568.9M153.2,496.3 156.5,502.0M150.1,482.4 152.4,476.7 150.8,470.1M156.5,502.0 163.2,503.3 169.9,502.5 171.4,503.3M106.6,496.3 100.8,500.8 103.3,510.0 104.1,520.0 106.6,532.9M172.5,496.3 170.7,508.3 163.2,553.3M170.4,509.8 179.9,511.6 188.2,515.0 189.9,513.9M164.9,543.1 190.0,546.5M175.8,475.7 181.5,478.3 187.3,482.5 189.4,483.6M110.3,311.5 134.1,316.6 184.9,324.9 211.6,329.1 234.9,331.7M184.9,324.9 179.9,363.2 174.1,401.5 171.4,416.2M211.6,329.1 209.9,341.6 208.2,351.6 206.8,352.9M219.6,353.2 219.6,349.9 219.9,337.4 224.9,336.6 226.7,330.8M180.0,314.9 185.8,319.1 191.6,318.3 196.1,315.3M204.1,316.0 198.2,319.5 193.7,316.9M177.5,158.9 176.6,170.0 176.6,176.7 179.1,186.7 178.3,195.0 183.3,201.6 187.4,209.1 189.9,215.0 195.8,217.5 194.1,224.9 192.4,231.6 189.9,239.9 192.4,243.3 198.3,242.4 199.9,243.3 203.3,249.9 204.9,260.7 209.9,264.9 212.4,271.6 219.9,272.4 226.6,270.7 233.2,271.6 238.2,268.2 240.7,271.6 244.0,269.9M176.6,170.0 175.0,175.8 170.0,175.8 167.5,181.7 168.3,188.3 165.8,192.5 159.1,195.0 158.3,200.8 156.3,201.6M154.1,214.1 163.3,213.3 168.3,210.0 174.1,209.1 173.3,215.0 170.8,218.3 177.5,223.3 179.1,226.6 175.0,229.9 166.6,230.8 163.3,228.3 164.1,236.6 161.6,239.1 158.3,234.9 157.5,228.3 153.3,223.3ZM152.6,224.5 155.0,228.3 158.3,236.6 151.6,248.3 145.0,256.6 141.7,260.7 142.5,264.1 145.8,266.6 144.2,271.6 141.7,278.2 140.8,284.9 137.5,303.2 134.9,316.6M142.2,262.9 148.3,257.4 155.0,253.3 160.0,254.1 161.6,257.4 159.1,264.9 156.6,272.4 157.5,279.9 161.6,289.0 168.3,296.5 171.6,297.9M140.8,284.9 145.0,291.5 153.3,299.0 163.3,303.2 169.1,303.2 173.3,309.9 180.0,314.9 182.8,317.0M168.4,296.6 169.1,303.2M171.6,297.9 183.3,294.9 194.1,291.5 200.8,286.9 208.3,284.6 212.8,279.9 213.3,274.1 212.4,271.6M194.1,291.5 196.6,296.5 198.3,304.9 196.6,313.2 195.3,315.7M199.9,243.3 196.6,253.3 191.6,261.6 189.9,269.9 192.4,278.2 196.6,283.2 200.8,286.9M213.0,276.5 223.2,275.7 231.6,276.6 235.2,279.9 231.6,286.6 226.6,294.9 219.9,303.2 213.3,309.9 206.6,314.9 203.3,316.4M244.7,263.3 290.0,267.4M181.7,350.0 177.5,375.0 173.3,401.6 169.1,433.3 167.5,440.7M167.5,440.7 166.3,449.9 164.2,458.2 161.7,460.7 158.3,457.4 154.2,458.2 151.7,460.7 150.8,469.9 151.7,481.5 152.0,491.1M167.5,440.7 193.3,444.1 259.1,450.7M267.9,359.2 264.9,391.6 260.7,433.3 259.1,450.7M234.6,350.1 234.1,355.0 267.9,359.2 301.5,361.7 310.0,362.1M259.1,450.7 310.0,454.9M259.1,450.7 256.6,474.9 254.9,496.4M208.5,350.0 204.9,356.7 200.0,362.5 201.6,368.3 205.8,375.0 208.3,382.0 219.9,382.5 220.8,375.0 219.9,366.7 219.1,358.3 219.6,350.0M219.9,382.5 221.6,385.0 224.1,390.0 226.6,392.5 231.6,390.8 236.6,386.6 241.6,385.8 244.1,383.3M241.6,370.8 247.4,369.1 256.6,368.3 267.1,367.5M241.6,370.8 243.2,376.6 244.1,383.3 242.4,385.0 244.1,387.5 248.2,391.6 253.2,393.0 259.9,391.6 265.1,389.1M208.3,382.0 203.3,388.3 198.3,398.3 194.1,408.3 190.8,413.3 190.0,419.9 187.5,424.1 179.1,425.8 176.6,429.9 177.5,433.3 183.3,432.4 188.3,434.9 185.7,443.1M168.8,434.8 176.6,434.1 177.5,433.3M226.6,392.5 223.3,398.3 222.4,406.6 220.8,414.9 221.6,419.1 228.3,419.9 232.4,420.8 233.3,424.1 229.9,426.6 223.3,430.8 216.6,436.6 211.6,440.7 208.2,445.6M150.8,394.2 156.7,398.3 173.3,401.6M147.2,431.4 155.0,429.9 157.5,427.4 160.0,429.9 159.2,436.6 162.5,439.1 165.0,435.7 168.8,434.9M308.1,362.9 309.0,373.3 310.5,374.0M309.7,423.6 306.5,424.9 299.9,431.6 293.2,433.3 286.5,435.7 291.5,438.2 298.2,440.7 303.2,446.6 305.7,454.1M297.4,453.9 295.7,464.9 293.2,473.2 286.5,476.5 281.5,481.5 277.4,485.7 269.9,487.4 269.0,488.2 268.2,493.2 268.2,496.4M269.0,488.2 276.5,485.7 288.2,487.4 294.9,488.2 306.5,493.2 309.9,493.9M289.9,487.6 289.9,495.8M193.3,444.1 190.8,449.9 190.0,456.6 183.3,459.9 177.5,463.2 175.0,473.2 175.8,475.7 180.8,479.9 189.1,483.2 191.6,488.2 197.5,491.5 201.6,496.3M175.0,473.2 172.5,496.4M179.9,159.2 210.0,164.6 246.6,170.0 279.9,173.6 313.2,176.6 340.0,177.4M210.0,164.6 212.5,170.0 215.8,174.9 219.1,183.3 222.5,188.3 223.0,194.9 225.8,197.4M225.8,197.4 231.6,199.9 236.6,201.6 241.6,198.6 249.9,199.1 254.9,204.1 261.6,206.6 266.6,205.7 270.7,201.6 276.6,201.6 282.4,199.9 288.2,204.1 296.6,206.6 304.0,206.6 308.2,204.9M308.2,204.9 309.0,194.9 311.5,186.6 314.5,176.7M222.6,190.7 219.1,194.9 218.3,204.9 221.6,211.6 222.5,217.4 227.5,222.4 228.3,224.9M228.3,224.9 234.9,224.6 235.8,236.6 237.4,239.9 242.4,234.6 249.9,235.2 259.9,234.9 269.9,236.6 271.2,239.5 279.9,239.0 288.2,239.0 293.2,236.6 299.9,234.1M299.9,234.1 299.0,219.9 299.9,209.9 304.0,206.6M200.0,240.7 206.6,239.0 213.3,236.6 220.0,231.6 228.3,224.9M200.0,240.7 200.8,246.5 205.0,258.2 210.4,266.2M200.2,242.3 195.8,253.2 190.7,266.3M249.9,235.2 249.1,248.2 244.9,253.2 244.7,263.3M299.3,224.1 330.7,229.9 331.5,219.9M299.9,234.1 311.5,234.9 313.2,243.2 315.7,254.9 314.9,266.3M258.1,460.0 254.1,505.0 251.6,526.6 246.6,581.0M180.4,563.4 206.6,577.4 246.6,581.0M246.6,581.0 263.3,582.4 264.1,573.2 294.9,574.1 294.9,570.2M294.9,570.2 329.9,571.2 340.0,571.9M201.6,496.3 205.0,498.3 205.0,504.1 213.3,506.6 219.1,510.0 220.0,516.6 231.6,517.9 232.4,528.3 243.3,524.9 251.9,524.1M205.0,504.1 201.6,506.6 200.8,510.0 205.0,511.6 205.0,514.9 207.5,522.4 211.6,528.3 215.8,538.3 220.8,535.8 222.5,529.9 232.4,528.3M180.0,511.7 188.3,514.9 190.8,513.3 205.0,514.1M180.0,545.2 196.7,547.4 220.0,549.9 220.8,535.8M254.1,505.2 268.2,505.8 268.2,493.3 270.7,487.5 277.4,485.8 289.9,487.5 294.9,489.1 303.2,490.8 306.5,494.1 318.2,493.3 324.9,492.5M296.4,460.1 294.9,470.0 289.1,474.2 283.2,478.3 277.4,485.8M250.8,535.7 254.9,529.1 257.4,527.4 256.6,534.9 259.9,542.4 264.9,548.2 269.9,554.9 274.1,554.9 274.9,550.7 276.6,543.3 277.4,536.6 282.4,534.9 284.9,526.6 286.6,521.6 283.2,513.3 286.6,508.3 283.2,501.6 286.6,498.3 289.9,495.8 290.7,487.7M276.8,541.5 286.6,541.6 288.2,538.3 288.2,549.9 294.9,554.9 298.2,564.1 299.9,559.9 299.0,548.2 299.9,538.3 304.5,533.5M304.4,492.3 304.0,505.0 303.2,514.1 298.2,516.6 297.4,520.8 303.2,519.9 306.5,523.3 303.2,531.6 304.9,534.1 309.9,529.9 312.4,524.1 313.2,543.3 312.4,553.2 313.2,560.7 318.2,562.4 323.2,558.2 329.9,571.2M324.9,492.5 325.7,505.0 323.2,514.9 321.5,526.6 323.2,534.9 322.4,548.2 323.2,558.2M304.9,534.1 308.2,541.6 313.2,543.3M244.7,263.3 280.0,266.7 322.4,269.6 359.0,271.6M359.0,271.6 358.2,316.6 355.7,364.9M234.2,354.1 268.3,359.1 308.3,362.9 355.7,364.9M244.7,263.3 241.7,291.6 237.5,321.6 234.2,354.1M243.8,271.7 246.7,275.0 249.1,273.3 251.6,277.5 255.0,280.0 257.5,283.3 261.6,285.0 262.5,289.1M280.0,266.7 278.3,270.0 271.6,272.5 263.3,270.8 259.1,274.1 258.3,278.3 261.6,285.0M262.5,289.1 257.5,290.8 256.3,295.0 259.1,301.6 255.0,302.9 251.6,307.4 245.0,309.9 242.5,318.3 237.7,320.2M262.5,289.1 266.6,289.6 271.6,293.3 278.3,298.3 284.9,301.6 293.3,303.3 303.3,303.6M301.7,268.2 298.3,273.3 303.3,279.1 306.6,286.6 306.6,297.5 303.3,303.6 303.3,311.6 299.1,318.3 295.8,322.4M349.1,271.1 344.9,276.6 339.9,280.8 333.2,282.5 329.9,288.3 328.2,298.3 328.2,300.8 325.7,303.3 322.4,308.3 321.6,316.6M328.2,300.8 336.6,297.5 344.1,294.1 346.6,291.6 351.5,292.5 358.6,293.3M299.1,318.3 303.3,317.4 311.6,316.6 316.6,319.1 321.6,316.6 329.9,321.6 338.2,324.1 346.6,328.3 353.2,334.1 357.2,335.3M259.1,301.6 262.5,308.3 265.8,314.9 270.0,321.6 276.6,324.1 283.3,326.6 288.3,321.6 295.8,322.4M270.0,321.6 272.5,328.3 274.1,334.9 284.9,341.6 293.3,348.2 298.3,354.9 303.3,361.8M295.8,322.4 303.3,325.8 313.3,325.8 321.6,327.4 326.6,332.4 329.1,343.2 329.9,363.8M314.9,266.3 322.4,265.8 322.4,269.6M360.7,250.4 359.0,271.6M359.0,282.5 390.0,284.5M359.0,282.5 364.9,283.3 370.7,290.0 372.4,296.6 369.9,304.9 365.7,312.4 361.5,313.3 358.4,308.3M358.1,318.3 390.0,319.2M355.7,364.9 390.0,366.5M230.0,331.1 236.4,331.8M268.3,359.1 264.4,396.2M308.2,363.2 309.1,373.2 314.9,376.5 320.7,374.0 324.9,376.5 325.7,386.5 321.6,391.5 321.6,395.3M384.9,366.4 376.5,369.9 371.5,374.9 370.7,383.2 368.2,396.4M295.0,570.2 300.0,575.8 304.1,583.3 310.0,589.1 318.3,596.6 326.6,603.3 330.8,611.6 331.6,618.3 334.9,626.6 341.6,633.2 349.9,638.2 356.6,642.4 361.6,643.2 366.6,639.1 370.0,630.0M299.9,361.5 306.7,362.0 355.8,364.2 390.7,365.8M356.5,350.0 355.8,364.2M390.7,357.5 390.7,365.8M390.7,365.8 389.9,389.1 389.1,428.3 388.2,457.9M389.9,389.1 422.4,388.6 460.0,388.1M321.6,394.6 315.8,400.0 323.3,414.1 335.8,408.3 339.1,409.1 348.3,406.6 359.1,403.3 369.9,409.1 378.3,410.8 381.6,415.8 383.3,421.6 389.1,427.4M315.8,400.0 311.7,400.8 309.2,401.9 308.3,407.4 310.8,413.3 310.8,419.9 312.5,421.6 318.3,424.9 322.5,433.3 325.8,441.6 330.0,444.9 330.8,455.7M368.2,396.4 366.6,395.0 363.3,399.1 359.1,403.3M312.5,421.6 306.7,425.8 299.9,431.5M299.4,442.1 304.2,446.6 305.8,454.6M300.0,454.1 330.8,455.7 388.2,457.9 435.7,458.6 460.0,458.2M433.2,388.5 434.0,407.4 434.0,427.4 435.7,458.6M389.5,409.1 434.0,407.4 460.0,403.3M389.1,429.1 434.0,427.4 438.2,426.6 444.0,427.4 444.9,429.1 454.8,429.9 460.0,430.8M420.7,356.7 421.6,372.5M390.7,357.5 420.7,356.7M355.0,456.6 354.1,464.9 350.0,469.9 348.3,476.5 345.8,478.2 344.1,471.5 340.8,467.4 336.6,473.2 337.5,479.0 339.1,484.9 337.5,491.5 325.0,493.2 316.7,494.0 306.7,490.7 299.8,490.1M370.0,457.2 368.6,496.3M369.6,469.0 425.7,470.2M425.7,470.2 425.7,496.4M435.7,458.6 439.0,463.6 439.5,468.2 434.9,469.0 434.5,478.2 438.2,480.7 435.7,484.0 431.5,485.7 427.4,483.2 425.7,484.9M434.5,478.2 460.0,478.8M330.0,177.1 363.3,178.6 404.1,179.6 433.2,179.6 469.0,179.1 490.0,178.5M363.3,178.6 362.5,203.3 360.8,216.6 360.3,249.9 359.4,266.3M360.3,250.4 394.9,251.5 428.2,251.5 463.2,251.2 481.2,250.2M469.0,179.1 470.7,189.9 471.5,198.3 474.9,209.9 476.5,223.2 477.4,234.9 479.9,241.5 481.2,250.2 480.7,253.2 477.4,258.2 479.9,263.2 483.9,266.4M404.1,179.6 404.1,189.9 409.9,190.8 411.6,207.4M433.2,179.6 434.1,193.3 438.2,195.8 439.9,200.8 446.6,202.4 449.0,206.6M386.8,206.6 416.6,207.4 449.0,206.6M362.5,202.4 369.1,199.9 373.3,201.9 379.1,199.6 384.9,200.8 386.6,206.6 389.1,206.7M360.8,216.6 378.3,219.1 379.1,226.6 386.6,227.4 393.3,227.4 411.6,227.4 412.4,223.2 415.7,219.9 416.6,207.4M393.3,227.4 394.6,251.5M415.7,219.9 424.9,219.9 425.2,235.7 428.2,236.2 428.2,251.5M425.2,235.7 449.9,234.9 477.4,234.9M449.0,206.6 450.7,234.9M449.2,209.9 474.8,209.7M331.5,220.0 332.5,219.9 333.3,223.2 335.8,223.6 336.7,219.9 345.0,220.7 348.3,226.6 353.3,229.9 355.8,229.9 356.6,219.9 357.5,215.7 360.8,216.2M369.5,470.0 367.5,520.0 365.8,572.7M330.0,571.2 365.8,572.7 380.0,573.2M380.0,573.2 380.0,583.2 379.6,596.5 386.6,599.9 390.8,604.9 392.4,608.2 390.8,616.4M330.2,492.5 333.3,491.6 338.3,496.6 345.8,504.1 345.8,511.6 349.1,513.3 349.1,525.8 351.6,531.6 353.3,535.8 356.6,538.3 366.9,538.3M425.7,470.2 425.7,492.5 414.9,492.5 414.1,501.6 404.9,502.5 404.1,512.5 406.6,513.3 405.8,521.6 404.9,543.3 395.8,543.3 394.9,552.4 392.4,553.3 392.4,563.2 400.8,564.1 400.8,574.1 399.1,583.2 380.0,583.2M425.7,492.5 425.7,514.1 429.9,516.6 434.1,519.1 438.2,517.5 443.2,523.3 449.9,524.1 454.0,525.8 461.5,524.9 464.9,529.1 471.5,528.3 476.5,530.8 480.7,533.3 483.2,529.1 489.6,529.8M454.0,525.8 454.0,531.6 444.9,532.4 444.9,541.6 435.7,542.4 434.9,551.6 432.4,552.4 432.4,571.6 439.9,571.6 439.9,585.7 434.1,585.7 429.9,584.9 419.9,584.1 419.1,574.1 400.8,574.1M439.9,585.7 446.6,586.6 452.4,589.9 458.2,586.6 461.5,590.7 464.9,596.5 465.7,599.0 463.2,604.9 461.5,611.5 459.9,616.4M463.1,605.2 468.2,608.2 476.5,607.4 484.8,603.2 491.3,599.6M459.0,478.7 459.0,490.0 458.2,493.3 453.2,493.3 452.4,502.5 430.7,503.3 429.9,505.0 425.7,505.0M458.2,493.3 461.5,495.0 462.4,513.3 461.5,524.9M462.4,513.3 471.5,512.5 471.5,509.1 484.8,508.3 485.7,506.6 490.2,507.8M370.0,630.0 373.3,625.8 379.2,624.1 385.0,625.8 391.6,625.3 395.8,626.6 403.3,633.3 411.6,641.6 415.0,649.9 420.0,659.9 426.6,668.2 433.3,676.6 436.6,681.6 436.6,688.2 439.9,694.9 444.1,704.0 453.3,707.4 459.9,710.7 466.6,712.4 474.9,713.2 481.6,717.4 485.7,713.2M485.7,713.2 483.2,708.2 479.9,700.7 478.2,693.2 479.1,686.6 481.6,678.2 483.2,671.6 486.6,666.6 489.9,661.6 493.2,657.4 499.9,653.3 506.5,649.9 513.2,646.6 521.5,639.9 526.5,634.9 531.3,632.6M390.8,616.3 391.3,625.3M459.9,616.3 456.6,620.8 451.6,625.0 444.9,629.5 437.4,629.1 436.6,641.6M411.7,641.9 436.6,641.6 447.4,641.9 447.4,637.4 453.3,638.3 458.2,642.4 463.2,648.3 466.6,658.3 468.2,664.9 466.6,673.2 464.1,676.6 464.9,686.6 471.6,684.1 480.2,682.9M453.9,707.7 458.2,697.4 465.7,696.6 466.2,700.7 479.9,700.6M497.5,580.9 500.7,585.0 494.9,589.2 489.9,592.5 491.5,600.8 498.2,605.0 503.2,610.0 504.9,616.6 507.4,623.3M507.4,623.3 501.5,628.3 494.9,636.6 488.2,643.3 484.1,646.6 485.7,654.9 490.4,660.9M507.4,623.3 509.0,615.0 516.5,613.3 521.5,610.8 526.5,605.0 528.3,604.9M400.8,251.5 400.8,319.6M442.4,251.4 442.9,320.6M481.0,251.2 478.2,256.7 480.7,262.5 484.1,266.7 484.6,273.3 484.9,306.6 483.2,308.3 484.9,316.6 484.1,324.9 485.7,329.9M400.8,274.1 442.4,274.6 484.6,273.3M380.0,283.9 400.8,285.0M442.8,298.3 484.8,297.1M400.8,303.3 406.6,300.8 410.8,301.9 414.1,304.1 430.0,304.6 432.4,309.1 442.8,309.6M380.0,318.9 400.0,319.6 451.6,320.8 456.6,323.3 460.8,324.1 469.9,322.4 476.6,324.9 481.6,327.4 485.7,329.9M485.7,329.9 488.2,336.6 490.7,343.2 493.2,349.9 496.6,356.6 497.4,364.9 499.0,369.9 502.4,378.2 506.5,384.9 511.5,389.0 515.7,390.7 516.5,393.2 513.3,396.5M391.7,319.3 390.8,357.9 390.0,389.0M380.0,366.1 390.6,366.6M453.8,321.9 454.1,348.2 421.6,349.4 421.6,356.9 390.8,357.9M454.1,348.2 454.9,388.2M421.6,356.9 421.6,373.2 425.0,374.0 434.9,373.2 444.9,373.5 454.9,371.5M421.6,373.2 425.0,379.0 422.5,383.2 422.5,388.6M454.2,354.1 459.9,352.4 463.3,349.1 473.2,347.9 483.2,347.9 492.7,348.5M454.9,371.5 478.2,371.2 479.1,374.9 485.7,374.9 486.6,369.9 498.7,369.0M390.0,389.0 454.9,388.2 506.5,386.9 511.5,389.0M504.8,250.0 504.0,261.7 502.4,266.7 503.2,273.3 500.7,276.6 503.2,281.6M526.2,250.1 529.0,258.3 531.5,263.3 528.2,268.3 529.9,273.3 536.5,275.0 540.0,273.3M484.6,280.8 498.2,279.6 503.2,281.6 511.5,288.3 507.4,289.1 508.2,292.5 511.5,292.5 511.5,306.1M509.5,286.7 526.5,281.6 536.5,283.3 540.9,283.3M484.1,307.4 517.4,305.8 539.9,303.8M517.4,305.8 518.2,326.9M485.6,329.6 518.2,326.9 540.0,325.4M518.2,326.9 523.2,334.9 524.0,341.6 522.4,351.2M494.9,353.2 522.4,351.2 540.0,349.6M522.4,351.2 520.7,358.2 522.4,372.9M500.5,373.4 522.4,372.9 540.0,371.4M513.3,396.5 513.3,397.5 516.6,402.4 521.6,406.6M521.6,406.6 523.3,439.9 525.8,466.6 526.6,477.4M589.1,396.3 589.0,398.3 592.4,404.9 596.5,407.4 600.7,406.6 602.3,409.9 600.7,414.9 601.5,419.9 606.5,424.9 610.0,427.4M460.0,403.3 462.5,403.3 463.3,409.1 472.5,409.6 473.3,406.6 481.6,407.4M480.8,387.5 480.0,395.0 481.6,407.4 485.0,431.1 478.3,431.6 479.1,457.4M460.0,430.8 478.4,431.6M481.6,407.4 490.0,408.3 491.6,405.8 498.3,407.4 504.1,405.8 511.6,409.1 521.6,406.9M485.0,431.1 492.5,431.6 493.3,429.9 499.1,429.9 500.0,432.4 522.8,431.6M450.0,458.3 479.1,457.4 524.7,455.7M521.8,410.8 531.6,409.1 536.6,407.4 543.2,408.3 549.9,405.8 558.2,405.8M553.2,370.2 552.4,380.0 554.1,388.3 556.6,398.3 559.1,401.6 558.2,405.8 563.2,413.3 568.2,415.8 565.7,421.6M565.7,421.6 574.9,421.6 576.5,424.1 581.5,421.6 591.5,420.8 594.9,415.8 600.7,415.3M565.7,421.6 564.9,428.3 563.2,432.4 558.2,433.3 549.9,432.4 548.2,434.9 540.7,434.9 539.9,440.7 523.3,440.3M563.2,432.4 566.6,443.2 569.0,452.4 569.9,464.6M598.2,461.2 597.4,453.2 604.8,449.9 610.0,446.6M525.8,466.9 569.9,464.6 598.2,461.2 610.0,459.9M485.7,457.1 480.8,466.6 481.6,474.9 479.1,478.2 450.0,478.5M481.6,474.9 487.5,478.2 498.3,479.9 499.1,484.9 506.6,485.7 511.6,480.7 516.6,478.2 526.6,477.4M459.0,479.5 459.5,494.0M497.9,484.8 497.5,489.9 499.2,496.8M526.6,477.4 529.9,484.9 531.6,496.4M556.5,465.3 557.4,483.2 529.9,484.9M586.5,462.6 587.4,473.2 583.2,478.2 578.2,479.9 579.0,488.2 566.6,490.7 559.9,489.9 557.4,483.2M480.0,178.8 500.0,177.9 500.0,169.1 505.0,169.1 507.5,182.4 513.3,184.1 521.6,184.9 524.1,187.4 528.3,184.9 533.6,185.3 539.9,187.4 543.3,191.6 548.3,190.8 553.3,193.3 559.1,196.6 563.3,194.1 567.4,191.3 570.7,193.3 578.2,192.1 583.2,193.3 589.1,194.6M589.1,194.6 581.6,198.3 573.2,203.3 566.6,210.7 559.9,219.9 553.3,226.6 550.8,228.2M550.8,228.2 558.3,226.6 566.6,223.2 571.2,220.7 572.4,228.2 579.9,229.1 588.2,221.6 596.6,218.2 601.5,214.1 605.7,210.7 609.9,219.9 613.2,216.2 619.9,216.6 624.9,219.1 629.0,224.9 634.8,224.1 639.1,222.8M579.9,229.1 584.9,234.1 603.2,237.9 617.4,239.0 618.2,243.2 622.9,244.5 623.5,251.5 626.9,252.4 627.5,257.9 627.8,262.8M500.0,177.9 501.6,183.3 495.0,188.3 495.0,199.1 500.0,199.9 501.6,213.2 502.5,228.2M533.6,185.3 534.9,206.6 535.8,221.6 536.6,227.9M477.7,235.8 486.7,232.9 503.5,232.3M502.5,228.2 503.3,229.1 510.0,229.1 510.8,236.6 515.0,239.5 515.8,229.1 524.1,228.2 525.0,222.9 535.8,221.6M536.6,227.9 549.1,227.9 550.8,228.2M503.3,229.1 505.0,253.2 502.6,266.1M515.0,239.5 525.0,243.2 527.5,256.5 530.0,258.2 529.6,266.1M549.2,227.9 548.3,243.2 542.4,249.0 541.6,253.2 544.1,258.2 544.2,266.4M571.4,221.5 571.9,243.2 575.7,244.0 576.6,258.2 575.4,266.4M544.1,264.0 561.6,263.2 562.0,266.4M604.1,238.0 603.2,251.5 599.0,253.2 599.9,258.2 604.0,261.5 603.8,266.4M629.0,224.9 630.7,233.2 634.1,244.2M480.6,476.3 483.3,477.5 488.3,478.3 498.3,480.8 497.5,488.3 500.0,496.6 493.3,498.3 492.5,507.5 480.0,508.6M529.7,484.3 543.3,483.3 557.4,484.2 556.8,470.0M531.6,496.3 532.4,520.0 531.9,532.4 539.9,534.9 541.6,546.9M541.6,546.9 578.2,544.1 597.6,542.0M541.6,546.9 542.4,569.9 546.6,573.2 549.1,579.9 553.3,588.2 554.1,595.2M479.8,532.7 483.3,528.3 490.0,529.9 495.8,533.3 502.5,529.1 508.3,527.4 515.0,528.3 517.5,526.6 523.3,529.9 531.9,532.4M618.1,470.0 616.5,476.7 613.2,483.3 611.5,491.6 606.5,499.1 604.0,506.6 599.9,514.1 595.7,521.6 594.9,528.3 596.6,536.6 598.2,544.9 601.5,554.9 599.9,562.4 598.2,568.2 594.9,574.1 593.2,583.2 591.6,590.2M611.5,495.0 632.3,493.3 639.9,490.9M611.5,495.0 609.9,501.6 613.2,513.3 618.2,518.3 617.9,524.1 614.0,527.4 613.2,536.6 612.4,541.6 619.0,546.9 613.2,553.3 606.5,554.9 601.2,556.3M632.3,493.3 630.7,503.3 631.5,514.1 640.0,513.3M617.9,524.1 634.8,523.3 636.5,526.6 634.8,536.6 634.8,549.9 640.0,550.1M613.2,553.3 617.4,556.6 618.2,564.9 626.5,564.9 627.4,560.7 634.0,559.9 634.8,549.9M618.2,564.9 618.2,579.9 613.2,581.6 612.4,587.4M591.6,590.2 612.4,587.4 629.0,587.4 637.3,585.7 640.2,587.2M634.0,559.9 636.5,578.2 637.3,585.7M629.0,587.4 629.9,594.0 634.8,601.5 639.4,601.9M591.6,590.2 596.6,598.2 600.7,603.2 604.0,605.7 613.2,606.5 618.2,604.9M618.2,604.9 623.2,602.4 629.9,604.9 626.5,609.0 619.9,609.0ZM554.1,595.2 572.4,594.9 573.6,603.2 586.6,605.2 580.7,609.9 584.1,616.4M522.4,609.8 528.3,604.9 534.9,612.4 551.6,608.2 554.1,595.2M500.0,496.6 508.3,495.0 520.0,496.6 521.6,495.0 531.3,493.9M492.5,507.5 496.7,510.0 507.5,514.1 510.0,505.0 520.0,500.8 520.4,496.2M507.5,514.1 505.0,523.3 504.2,528.6M557.4,484.2 559.9,490.0 573.2,491.6 578.2,489.1 579.1,478.3 586.6,477.5 587.1,469.9M559.9,490.0 558.3,496.6 553.3,503.3 551.6,507.5 541.6,509.1 539.9,515.0 532.4,518.3M573.2,491.6 574.1,498.3 575.7,511.6 581.6,513.3 584.1,518.3 593.2,523.3 595.7,521.6M574.1,498.3 586.6,497.5 588.2,490.0 599.9,489.1 612.2,487.8M551.6,507.5 550.8,518.3 559.9,520.0 571.6,521.6 579.1,523.3 580.0,543.9M550.8,518.3 551.6,536.6 553.3,546.0M575.7,511.6 574.1,513.3 574.7,522.3M555.7,545.8 557.4,556.6 553.3,561.6 558.3,566.6 563.3,568.2 566.6,576.6 574.1,572.4 583.2,569.9 589.9,569.9 594.9,574.1M578.2,544.1 581.6,556.6 580.7,563.2 584.1,568.2 589.9,569.9M542.4,569.9 551.6,572.4 559.0,566.8M563.3,568.2 561.6,571.6 566.6,578.2 564.9,583.2 567.4,586.6 568.2,595.0M547.1,574.5 553.3,588.2M515.0,528.3 515.8,538.3 505.8,541.6 502.5,551.6 501.6,561.6 495.8,564.1 502.5,570.7 495.8,578.2 500.0,584.9 490.0,593.2 491.7,601.5 500.8,606.5 504.5,615.0M515.9,527.6 530.0,533.3 539.9,534.9M479.6,605.8 491.7,601.5M518.2,642.6 523.3,641.6 525.0,636.6 530.0,633.3 536.7,629.9 545.0,625.8 550.0,622.9 558.3,621.9 566.6,622.4 574.9,624.1 583.3,624.9 586.6,622.4 589.9,621.9 593.3,624.1 598.3,623.3 602.4,624.1 603.3,629.9 608.2,630.8 614.9,631.9 619.9,628.3 623.2,627.4 624.9,631.6 628.2,626.6 626.6,622.4 631.6,622.4 636.6,624.1 641.5,632.4 644.0,630.8 648.2,629.1 647.4,625.8 639.9,622.4 635.7,620.8 634.9,618.3 639.0,614.9 639.0,609.1 636.6,608.3 633.2,610.0 632.4,606.6 634.9,604.1 639.9,601.6 646.5,600.0 654.9,598.3 657.5,596.8M554.1,595.1 551.6,608.3 550.8,616.6 550.0,622.9M584.1,616.4 586.6,619.1 589.9,621.9M586.6,605.2 591.6,604.1 598.3,606.6 604.1,606.3M604.1,606.3 605.7,613.3 607.4,617.4 602.4,624.1M620.0,270.7 620.0,273.2M650.8,286.3 650.7,290.0 654.0,295.0 657.4,301.6 659.0,309.9 658.2,318.3 655.7,324.9 652.4,331.6 648.2,335.7 644.9,336.6 639.9,334.1 636.6,328.3 633.2,319.9 631.6,311.6 630.2,301.6 631.6,293.3 632.5,286.3M544.2,265.0 561.6,263.3 562.5,270.8 575.0,270.0 576.6,257.5 576.1,249.9M575.0,270.0 578.3,278.3 586.6,279.1 587.4,273.3M587.4,273.3 613.3,270.8 612.4,280.0 611.6,295.3 589.1,296.6 588.3,288.3 587.4,273.3M599.5,253.0 599.9,258.3 603.3,260.0 604.1,270.0 613.3,270.8M626.0,252.2 624.9,253.3 628.2,260.0 624.9,266.7 620.7,270.0 613.3,270.8M572.5,297.5 588.3,296.6 611.6,295.3 621.6,294.6 631.4,294.2M600.7,295.9 598.3,304.9 599.1,321.4M621.6,294.6 620.7,304.9 617.4,313.3 618.3,320.5M584.9,321.9 614.9,320.8 633.2,319.6M544.2,266.3 544.2,271.6 548.3,276.6 553.3,281.6 558.3,285.0 563.3,289.1 569.1,291.6 572.5,297.5 575.0,304.9 575.8,313.3 579.1,319.1 584.9,321.9 587.4,325.8 591.6,329.9 594.1,334.9 592.4,340.7 588.3,346.6 581.6,349.9 580.8,354.9 583.3,359.9 580.0,366.6 576.6,369.9 575.8,376.5 578.3,384.9 581.6,388.2 586.6,392.4 589.1,396.4M544.2,271.6 540.0,273.3 536.7,275.0 537.5,280.0 540.8,282.5 541.7,303.6M530.0,304.7 541.7,303.6 572.6,297.8M550.6,301.9 552.5,330.8M530.0,326.1 552.1,325.0M552.5,330.8 557.5,331.3 588.1,326.4M556.6,331.2 558.3,348.2M530.1,350.5 548.3,349.4 558.3,348.2 571.6,348.2 581.1,353.0M548.6,349.4 549.1,355.7 553.0,356.6 553.3,370.2M530.0,372.3 553.3,370.2 570.8,368.5 576.6,370.2M552.4,370.3 553.3,383.2 556.0,396.1M614.9,320.8 615.7,339.9 613.3,340.7 614.1,349.9M580.8,354.9 591.6,354.1 599.9,352.7 606.6,350.7 614.1,349.9 619.9,351.9 626.6,348.2 633.2,344.9 641.2,344.1M599.9,352.7 600.8,359.9 603.3,366.6 601.6,373.2 598.3,378.2 596.6,381.5 591.6,384.9 586.6,388.2 581.2,387.8M598.3,378.2 601.6,379.9 603.3,383.2 609.9,379.9 616.6,381.5 620.7,385.7 619.2,396.2M619.9,351.9 616.6,354.9 619.9,359.1 624.9,359.9 628.2,364.9 626.6,373.2 624.9,381.5 620.7,385.7M624.9,381.4 629.9,381.5 644.9,376.9M640.9,334.6 641.2,344.1 643.2,358.2 644.9,376.5 647.5,396.4M652.7,330.9 671.5,329.6 687.3,327.9 690.0,327.3M657.2,330.6 659.9,343.2 656.5,354.9 658.2,359.4M643.6,362.0 658.2,359.4 663.2,361.6 668.2,358.2 676.5,355.7 690.5,353.1M672.4,329.6 674.9,343.2 674.0,349.9 676.5,355.7M669.1,286.3 670.7,294.6M656.8,300.5 661.5,300.0 666.5,296.6 670.7,294.6 675.7,294.1 689.5,292.5M675.7,294.1 675.7,304.9 672.4,307.4 673.2,314.1 677.4,315.8 677.4,321.6 671.5,324.1 671.9,329.6M690.4,272.7 689.3,292.5M647.5,396.4 648.3,391.6 649.1,403.3 646.3,410.8 643.6,419.9 643.0,424.9M625.0,449.9 625.8,445.7 630.8,442.4 635.8,443.2 637.5,438.2 641.6,429.9 643.0,424.9 648.3,422.6 654.9,423.3 660.8,421.1 665.8,418.6 668.3,421.1 671.6,415.1 677.4,415.9 681.6,408.4 686.6,407.4 688.2,400.0 695.7,396.8 701.6,388.5 706.6,390.0 713.2,394.0 716.6,395.0 721.5,398.3 723.2,398.0 726.5,393.6 729.9,391.6 739.0,397.8M610.0,427.4 615.0,433.3 617.5,438.2 618.3,443.2 622.5,446.6 625.0,449.9 624.1,456.6 619.1,459.1 617.5,466.6 618.3,471.5 615.8,476.5 614.2,483.2 611.7,489.0 611.3,496.0M619.1,459.1 645.8,455.7 674.9,449.6 714.9,444.1 760.0,435.2M611.7,495.0 645.0,490.2 683.3,486.5 716.6,482.7M668.3,421.1 669.9,431.6 666.6,436.6 668.3,441.6 674.6,449.6M686.6,407.4 690.7,409.9 694.9,411.6 690.7,416.6 692.4,422.4 698.2,424.1 704.9,429.9M723.2,404.9 719.9,411.6 714.9,414.9 713.2,421.6 704.9,429.9 700.7,440.7 701.7,445.9M723.2,398.0 723.2,404.9M739.0,397.8 743.2,404.9 753.2,414.9 748.2,419.9 741.5,428.3 733.2,438.2 726.5,441.8M753.2,414.9 756.5,411.6 760.8,408.3M645.8,455.7 644.1,466.6 645.8,476.5 645.0,489.9M695.6,446.7 690.7,454.9 684.9,460.7 686.6,468.2 683.3,474.9 684.2,486.5M714.8,444.1 714.1,454.9 706.6,463.2 701.6,471.5 699.6,484.7M716.6,482.7 721.5,479.0 724.0,474.0 731.5,466.6 738.2,461.6 744.0,453.2 753.2,448.2 760.0,444.9M658.2,359.4 658.3,365.0 661.6,378.3 663.3,387.5 662.4,391.1 648.3,392.0M662.4,391.1 664.1,406.6 664.1,417.4 665.8,418.6M663.3,387.5 673.3,386.6 674.1,391.6 678.3,392.5 679.1,398.3 681.6,408.4M677.9,355.5 679.1,361.7 679.9,373.3 685.7,375.0 686.6,385.8 678.3,387.5 678.3,392.5M686.6,385.8 686.6,380.0 694.9,378.5M696.4,394.1 695.7,396.8M720.0,376.5 721.5,382.5 717.4,385.8 716.6,392.5 716.6,395.0M743.9,390.2 741.5,395.8 739.0,397.8M600.3,352.6 616.7,352.5 620.0,358.3 626.6,363.3 627.5,370.0 625.0,378.3 621.6,385.8 618.3,381.6 611.7,380.0 606.7,383.3 600.0,379.1M625.0,378.3 630.0,380.8 645.0,377.5M621.6,385.8 618.3,400.0 621.6,406.6 621.3,410.8 601.1,413.6M621.3,410.8 629.1,410.8 646.5,410.3M629.1,410.8 626.6,414.9 622.5,414.6 623.3,428.3 630.8,429.1 631.3,442.5M609.2,460.0 619.1,459.1M610.0,459.9 610.3,466.6 612.5,472.4 617.2,473.7M609.4,447.0 622.3,446.4M620.0,216.6 625.0,219.9 630.0,224.9 638.3,223.3 646.6,219.1 656.6,216.6 661.6,213.3 665.8,212.9 666.3,218.3 673.3,219.6 677.4,217.4 679.9,224.1 684.9,227.4 683.3,229.1 673.3,229.4 673.3,233.2 667.5,230.7 660.0,230.7 653.3,234.1 647.5,237.4 643.3,243.2 641.6,244.1 640.0,239.9 637.5,243.2 635.8,242.4 634.2,244.1M634.2,244.1 631.7,250.7 628.3,256.6 628.0,262.4 625.8,266.5 622.5,269.0 620.0,270.7M620.0,273.2 625.8,271.5 627.5,267.4 631.7,263.5 634.2,264.9 633.7,273.2 632.0,279.9 632.5,286.4M671.6,235.2 670.0,236.6 669.1,243.2 665.8,246.6 660.8,250.7 659.1,256.6 661.6,254.9 664.1,256.6 663.6,259.9 660.0,257.4 655.8,259.9 652.5,264.9 653.0,271.5 650.8,278.2 650.8,286.4M671.6,235.2 674.9,236.6 681.6,239.1 688.3,239.9 693.3,241.6 697.4,246.6 699.1,249.1 697.4,251.6 699.9,256.6 701.6,263.2 699.9,268.2 697.4,271.5 694.1,274.0 693.3,278.2 694.9,281.5 699.1,281.5 703.3,274.9 706.6,270.7 710.7,269.5 714.1,273.2 716.6,279.9 719.1,286.3M674.9,236.6 676.6,256.6 678.3,271.5M651.8,275.0 678.3,271.5 698.5,270.1M668.2,272.8 669.1,286.4M690.8,270.6 689.9,274.9 691.6,286.4M716.6,482.7 736.6,478.7 744.9,476.3 761.9,469.9M650.7,489.6 651.6,520.0 651.6,548.3 655.0,573.2 656.6,586.6 657.5,596.9M699.1,483.7 703.3,498.3 708.3,513.3 713.3,529.9 716.6,539.9 718.2,548.3 720.7,563.2 721.6,574.1 724.9,579.9M672.0,582.0 721.6,574.1M724.9,579.9 749.9,577.9 780.0,574.5M631.5,514.1 651.4,512.4M634.7,551.1 635.0,550.8 651.7,548.6M635.2,524.0 633.3,536.6 635.0,550.8 635.8,559.9 634.2,569.9 637.5,578.2 638.3,587.4M630.0,587.2 638.3,587.4 647.5,586.6 656.6,586.1M644.7,470.0 646.7,476.7 645.0,489.9M685.9,469.6 684.9,473.3 683.3,476.7 684.1,485.8M702.7,469.7 699.9,476.7 699.1,483.7M725.7,472.4 720.7,477.5 716.9,482.4M651.2,505.8 681.6,504.1 682.4,497.5 685.8,495.0 684.1,486.3M674.9,504.5 675.8,516.6 672.5,524.9 678.3,531.6 686.6,535.8 689.9,541.6 689.1,545.8 683.3,548.3 678.3,539.9 669.1,536.6 661.6,534.9 651.6,537.4M697.5,484.9 699.1,493.3 694.9,500.0 688.3,506.6 686.6,512.5 683.3,513.3 681.6,520.0 676.6,526.6 672.5,524.9M703.3,498.3 699.9,508.3 696.6,518.3 693.3,526.6 686.6,530.8 680.0,531.6 677.5,528.3 683.3,521.6 684.9,514.1 687.4,511.6 689.1,507.5 695.8,500.8 699.9,494.1 698.1,488.3M717.5,481.7 717.4,507.0 706.6,507.5 705.8,505.8M700.5,506.5 699.9,511.6 696.6,520.0 693.3,527.4 688.3,531.9 690.3,543.3 699.9,541.9 708.3,540.3 716.2,539.9M683.3,548.3 689.1,545.8 696.6,544.9 699.9,541.9M708.3,540.3 709.9,548.3 708.3,552.4 703.3,554.1 696.6,553.3 693.3,556.6 684.1,556.6 678.3,554.9 670.0,552.4 668.3,557.4 660.0,559.9 660.8,554.1 652.4,554.0M656.1,582.3 665.8,580.7 668.3,577.4 672.0,581.9M657.5,596.9 664.1,596.5 665.8,590.7 668.3,594.0 670.8,598.2 675.0,593.5M675.0,593.5 680.0,593.2 689.9,591.5 699.9,590.7 711.6,594.9 719.1,599.9 719.9,604.0 723.2,603.2 729.9,601.5 738.2,597.4 739.9,594.9 746.6,590.2M749.9,577.9 747.4,589.0 746.6,590.2 753.2,594.0 761.5,601.5 768.2,608.2 776.5,609.9 779.9,601.5 790.0,596.5M779.9,601.5 778.1,616.4M734.1,479.2 736.6,490.0 744.9,495.8 744.9,503.3 733.2,507.5 729.1,510.8 720.7,514.1 717.4,507.0M744.9,503.3 756.5,505.8 763.2,502.5M744.8,476.4 753.2,490.8 754.8,490.0M729.1,510.8 732.4,512.5 733.2,524.9 738.2,536.6 739.1,539.9 729.9,544.1 719.9,544.1 716.2,539.9M756.5,505.8 763.2,526.6 768.2,533.3 767.4,543.3 758.2,541.6 753.2,544.9 748.2,541.6 739.1,539.9M739.1,539.9 740.7,553.3 743.2,568.2 748.2,568.2 749.1,578.0M767.4,543.3 766.5,553.3 773.2,571.6 774.0,575.2M768.2,533.3 790.7,531.1M672.0,581.9 673.6,588.2 675.0,593.5M631.5,514.1 634.8,523.3M719.1,286.3 720.8,290.0 722.4,295.0 721.6,300.0 718.3,301.6 717.5,306.6 715.0,311.6 712.5,318.3 710.8,323.3 711.6,325.8M711.6,325.8 718.3,327.4 723.3,328.3 726.6,329.1 733.3,325.8 736.6,324.9 739.9,323.3 744.9,319.1 751.6,314.1 758.2,309.9 764.9,304.9 769.9,300.8 773.2,296.6 778.2,291.6 781.6,286.6 783.2,280.0 776.6,275.8 780.1,272.5M676.1,250.0 678.3,271.3M669.9,272.6 678.3,271.3 697.5,270.1M691.6,286.3 689.1,293.6M675.7,296.6 689.1,293.6 696.6,291.6 705.8,288.3 710.0,290.0 720.6,289.6M696.6,291.6 695.8,304.9 696.6,316.6 694.1,320.8 695.0,326.8M670.0,329.7 686.7,327.6 711.5,325.3M687.5,327.9 690.0,349.9 692.5,364.9 695.0,379.0 696.2,396.1M711.6,325.8 713.0,346.6 705.8,347.4 705.8,349.9 690.1,350.8M736.9,324.8 737.4,328.3 734.1,334.9 728.3,338.2 726.6,340.7 727.4,346.2 713.0,346.6M758.2,309.9 760.7,319.9 762.4,328.3 765.7,340.7 769.9,359.1M734.1,334.9 743.3,334.9 744.9,331.6 753.3,330.8 762.4,327.9M745.7,331.5 744.9,344.9 746.6,351.9 767.7,349.3M727.4,346.2 728.3,354.1 736.6,354.9 746.6,351.9M713.0,346.6 715.0,348.2 715.8,368.5 705.8,369.5 693.6,371.0M736.6,354.9 737.4,359.9 733.3,364.9 734.1,369.9 729.1,374.0 720.0,376.5 715.8,368.5M730.1,373.2 733.3,379.0 739.1,379.9 743.3,378.2 749.9,378.2 754.9,373.2 759.9,366.6 763.2,359.9 762.1,350.0M739.1,379.9 739.9,383.2 743.3,383.2 744.1,389.9 741.3,396.0M769.9,359.1 764.9,364.9 760.7,371.5 756.6,376.5 751.6,379.9 749.9,378.2M780.1,327.4 776.6,325.8 769.9,326.6 762.4,327.9M769.9,300.8 770.7,304.9 780.1,303.8M792.4,327.4 798.2,329.9 794.9,334.9 791.5,342.4 797.4,343.2 799.1,352.4M769.9,359.1 799.0,352.4 830.1,346.2M798.2,329.9 811.5,328.3 818.2,321.6 819.9,316.6 814.9,308.3 810.6,308.6M811.5,328.3 814.9,339.9 812.5,349.9M800.8,586.3 801.6,586.6 804.9,594.1 809.9,601.6 816.6,610.0 820.7,614.9 821.6,618.3 823.2,623.3 829.9,633.3 834.9,641.6 839.9,648.2 842.4,656.6 843.2,666.6 844.1,674.9 843.2,679.9 844.9,683.2 845.7,688.2 843.2,691.5 838.2,694.0 833.2,695.7 828.2,694.9 825.7,692.4M778.1,616.4 779.1,621.6 778.3,629.9 780.0,638.3 784.1,641.6 783.3,646.6 787.4,653.2 792.4,658.2 796.6,659.9 799.9,658.2 801.6,664.9 806.6,668.2 809.9,678.2 816.6,679.9 821.6,684.9 825.7,692.4M790.0,596.5 796.6,600.0 798.3,597.5 805.2,594.5M778.6,631.4 790.8,626.6 792.4,623.3 804.9,620.8 816.6,617.4 820.8,615.3M791.7,657.5 803.3,652.4 812.4,649.9 814.1,645.7 823.2,643.3 831.6,641.1 834.9,641.6M829.8,641.5 834.1,653.2 836.6,666.6 836.6,679.9 834.1,691.5 831.5,695.4M816.3,609.5 818.2,614.1 819.1,618.3 821.8,619.0M815.7,696.9 819.9,696.5 819.9,698.2 815.7,698.5ZM823.2,696.9 827.4,696.5 827.4,698.2 823.2,698.5ZM783.6,358.0 784.1,365.0 781.6,371.6 777.5,378.3 773.3,383.3 766.6,388.3 763.3,394.9 760.0,401.6 759.1,406.6 755.0,411.6 752.5,415.7 746.7,421.6 740.9,429.0M770.0,359.0 783.6,358.0 787.5,358.0M787.5,358.0 789.1,368.3 793.3,365.8 794.9,370.0 793.3,383.3 797.4,384.1 799.9,375.8 803.3,374.9 806.6,368.3 809.1,359.1 814.9,361.6 819.9,359.1 822.4,357.5 822.3,347.9M793.3,383.3 790.0,382.4 788.3,389.9 785.8,396.6 785.0,403.3 784.1,408.2 780.0,413.2 778.3,414.1M759.1,406.6 765.0,412.4 773.3,407.4 781.6,399.1 785.7,397.5M754.6,412.2 761.6,420.7 770.0,418.2 778.3,414.1M807.4,385.8 803.3,391.6 798.3,398.3 793.3,406.6 788.3,416.6 784.1,423.2 781.8,432.2M815.8,386.6 813.3,393.3 808.3,401.6 811.6,408.2 815.8,413.2 815.8,424.9M803.3,374.9 806.6,378.3 807.4,385.8 809.9,384.9 815.8,386.6 821.6,384.9 826.6,377.4 830.7,380.8 835.7,386.6 836.6,398.3 834.9,409.9 832.8,421.3M822.4,357.5 826.6,361.6 833.2,364.6 832.4,370.0 826.6,377.4M851.4,341.0 846.6,346.6 843.2,350.8 839.9,355.8 837.4,360.0 835.7,364.1 833.2,364.6M839.9,355.8 844.1,363.3 846.6,370.0 849.9,373.3 844.1,371.6 838.2,368.3 835.7,364.1M830.7,380.8 836.6,378.3 843.2,377.4 849.9,381.6 854.9,386.6 856.6,393.3 859.9,398.3 863.2,403.3 864.9,406.6 864.9,412.8M826.6,377.4 829.9,373.6 833.2,376.6 837.4,374.1 839.9,377.4 844.9,375.8 848.2,379.1 852.4,379.9 854.9,384.9M833.2,370.0 838.2,371.6 843.2,374.9 847.4,374.1 850.7,377.4M835.7,386.6 839.9,384.6 842.4,387.4 846.6,386.3 849.9,389.9 854.1,389.6 856.6,394.1M839.9,389.9 844.9,391.6 849.1,394.9 854.9,396.6 857.4,399.9M838.2,399.9 842.4,398.3 846.6,401.6 850.7,400.6 854.9,404.1 859.0,403.3 861.5,406.6M839.9,404.1 846.6,405.2 850.7,408.2 856.6,406.9 860.7,409.9M864.9,406.6 871.5,417.4 879.0,427.4M854.9,421.6 859.9,419.6 857.4,423.6 864.0,421.9 861.5,426.6 869.0,424.1 873.2,426.6M866.5,429.1 873.2,430.7 868.2,434.9 874.9,434.9 869.9,429.9M856.6,436.6 863.2,438.2 859.9,441.5 868.2,440.7 864.9,446.5 869.9,448.2 866.5,451.5M854.9,426.6 859.9,428.2 856.6,431.6 862.4,433.2M832.4,483.3 828.2,491.6 824.9,498.3 824.9,503.3 821.6,506.6 816.6,511.6 813.3,516.6 806.6,523.3 803.3,528.2 798.3,535.2 795.8,543.2 794.1,553.2 792.4,563.2 792.9,568.2 796.6,576.5 800.8,586.3M869.8,448.3 866.5,455.0 856.6,456.7 851.6,461.6 849.9,466.6 845.7,475.0 844.9,480.0 838.2,482.5 832.4,483.3M754.8,490.0 763.1,502.4 777.5,511.6 781.6,514.9 785.0,521.6 790.0,529.9 793.3,534.9 798.3,535.2M754.8,490.0 761.6,487.5 769.1,488.3 771.6,483.3 776.6,480.8 779.1,485.0 780.0,490.0 778.3,494.9 784.1,501.6 777.5,511.6M741.7,480.0 746.7,475.8 756.7,472.5 763.3,469.1 768.0,465.3M741.7,480.0 745.0,481.6 750.0,487.5 754.8,490.0M775.0,466.5 776.6,480.8M788.4,469.4 793.3,471.6 798.3,480.8 794.1,486.6 790.0,488.3 788.3,485.0 780.8,487.5 779.1,485.0M798.3,480.8 807.4,488.3 808.3,499.9 824.1,504.1M793.3,471.6 809.1,467.4M808.3,499.9 804.1,504.9 794.9,509.1 784.1,504.9 784.1,501.6M780.0,574.5 780.8,578.2 784.1,576.5 783.3,568.2 792.9,567.9M750.1,437.2 780.8,432.4 831.6,421.6 864.9,412.8M864.9,412.8 866.6,418.3 873.2,426.6 874.9,431.6 869.9,434.1 870.7,439.9 866.6,448.2 869.9,449.1 866.6,454.9 858.2,456.6 853.2,460.2 849.9,464.0 844.9,473.2 843.2,479.9 836.6,483.5 831.6,482.4M762.4,435.3 760.0,443.2 756.7,446.6 749.7,450.1M783.3,431.9 785.0,442.7 772.5,445.2 770.8,456.6 760.0,444.9M830.7,421.8 829.9,433.2 828.3,439.1 823.3,440.2 818.3,436.9 816.6,441.1 808.3,441.9 800.0,444.4 793.3,443.6 785.0,442.7M828.3,439.1 838.2,438.2 848.2,438.2 856.6,436.6 863.2,435.7 869.9,434.1M823.3,440.2 827.4,441.6 823.3,447.9 816.6,449.4 811.6,454.6 791.6,456.6 770.8,456.6 769.1,457.4 768.3,465.2M823.3,447.9 825.8,451.9 839.9,455.2 853.2,460.2M816.6,449.4 809.1,467.4M750.9,474.0 768.3,465.2 775.0,466.5 786.6,468.2 791.6,471.5 809.1,467.4 831.6,482.4M819.1,241.4 815.8,245.0 820.0,247.5 820.8,255.0 817.5,260.0 813.3,264.1 805.0,266.6 798.3,269.1 790.0,270.8 783.3,271.6 780.0,272.5M829.1,240.0 830.0,248.3 829.1,256.7 829.1,263.3 823.3,265.0 819.1,267.5 813.3,269.1 810.0,272.5 805.0,273.3 801.6,277.5 796.7,279.1 793.3,281.6 789.2,285.0 790.0,289.1 783.3,291.6 781.7,293.3 781.7,303.5M780.0,303.8 808.3,299.1 844.1,289.6M844.1,289.6 846.6,293.3 853.3,297.4 859.1,300.8M859.1,300.8 874.6,304.1M830.0,264.1 831.6,271.6 827.5,275.0 830.0,281.6 829.1,286.6 826.6,290.0 834.9,290.8 844.1,289.6M830.0,264.1 834.9,266.6 843.3,267.5 849.9,265.8 858.3,266.6 861.6,265.0M858.3,252.5 861.6,265.0 863.3,273.3 865.7,281.6 864.9,290.0 861.6,298.3 859.1,300.8M829.1,256.7 841.6,255.5 853.3,256.7 858.3,252.5M875.1,259.8 875.7,277.5 878.2,291.6 875.7,298.3 874.6,304.1M876.8,259.8 885.9,258.1 906.5,251.7 911.5,247.5 912.9,242.3M875.7,277.5 884.9,275.8 904.9,270.3 912.4,268.6M884.0,258.5 885.2,275.8M911.5,247.5 910.7,256.7 913.2,265.0 912.4,268.6M912.9,242.3 913.2,247.5 919.0,250.8 916.5,255.8 921.5,261.6 925.7,266.6 930.7,265.0 934.8,261.6 936.8,266.6 934.0,271.6 929.0,273.3 928.2,278.3 924.9,279.6 922.9,275.3 919.0,273.3 914.9,275.0 913.2,279.1M904.9,270.3 907.4,280.0 909.0,284.1 911.5,283.3 913.2,279.1 912.4,268.6M907.7,280.7 899.9,285.8 893.2,288.3 886.6,293.3 879.9,297.4 878.2,298.3 875.7,298.3M885.2,275.8 886.6,286.6 882.9,290.3 879.9,289.1 878.2,291.6M874.6,304.1 874.9,313.3 875.7,316.6 877.4,318.3 879.9,326.6 879.1,336.6 874.9,344.9 872.4,351.6 870.7,354.1 869.9,349.1 864.9,349.1 858.3,344.1 856.3,339.9 861.6,334.9 865.7,328.2 866.6,325.7 857.4,318.3 856.6,309.9 859.1,300.8M857.4,318.3 864.9,322.4 870.7,319.6 875.9,316.8M876.8,317.7 877.4,326.6 876.6,336.6 873.2,344.9 870.1,350.0M846.6,293.3 840.8,300.8 842.4,305.8 834.1,308.3 838.3,314.1 834.9,319.9 831.6,326.6 829.1,334.9 837.4,339.9 849.9,341.9M838.3,314.1 844.1,313.3 845.8,310.8 848.3,313.3 851.6,311.6 855.8,313.3 856.6,309.8M831.6,326.6 839.9,323.3 848.3,320.8 853.3,322.4 857.4,318.3M779.9,356.8 813.3,349.9 849.9,341.9 853.3,339.9 856.3,339.9M807.5,299.2 810.8,309.1 803.3,309.1 790.0,311.6 786.7,314.9 787.5,319.9 791.7,322.4 792.5,327.4 785.8,328.2 780.0,327.4M810.3,307.6 821.6,304.9 828.3,308.3 830.0,303.3 836.6,301.6 840.8,300.8M821.6,304.9 819.1,313.3 820.0,319.9 815.8,324.9 811.6,329.9 814.1,338.2 812.5,349.9M792.5,327.4 794.2,330.7 811.6,329.9M794.2,330.7 791.7,339.9 798.3,343.2 799.9,352.7M814.1,338.2 829.1,334.9M887.6,196.6 891.7,195.8 893.4,193.3 896.7,190.8 897.6,184.9 900.1,178.3 899.2,170.0 898.4,160.0 900.9,150.0 905.1,137.5 907.6,136.7 910.1,140.8 914.2,139.1 919.2,134.2 924.2,135.0 929.2,137.5 932.5,146.6 935.9,156.6 940.0,168.3 945.9,169.1 947.5,173.3 948.4,176.6 954.2,177.4 958.3,180.8 959.2,184.1 957.5,186.6 954.2,188.3 950.9,193.3 945.9,194.9 942.5,199.9 940.9,203.3 937.5,201.6 934.2,201.6 932.5,206.6 932.5,211.6 929.2,213.2 927.5,216.6 924.2,215.7 920.9,219.9 918.4,224.1 917.6,228.2 915.9,233.2 915.1,239.9 912.9,242.4M887.6,196.6 894.2,204.1 900.9,216.6 904.2,223.2 909.2,234.9 912.9,242.4M940.0,168.3 929.2,179.1 920.9,188.3 910.9,198.3 904.2,208.2 900.7,216.2M958.3,180.8 950.9,185.8 942.5,193.3 932.5,201.6 924.2,209.9 917.6,218.2 912.6,226.6 909.5,235.4M834.3,218.2 846.0,216.2 857.6,211.2 867.6,209.1 887.6,202.4 887.6,196.6M887.6,202.4 888.4,206.6 889.2,214.9 885.9,219.9 885.1,226.6 884.3,231.6 883.4,233.2 884.3,239.9 885.1,251.5 885.9,258.2M883.8,232.6 889.2,236.6 891.7,239.0 894.2,238.2 895.1,233.2 897.6,226.6 901.5,217.8M885.9,258.2 894.2,255.7 904.2,253.2 909.2,251.5 911.7,247.4 912.9,246.5 912.9,242.4M834.3,218.2 827.6,223.2 823.5,233.2 822.6,237.4 816.8,244.0 820.1,246.5 822.6,251.5 821.8,258.2 816.0,261.5 810.6,265.0M828.6,238.7 849.6,220.6M822.6,237.4 828.5,238.2 830.1,243.2 826.0,248.2 827.6,253.2 828.5,259.9 821.0,263.2 815.0,268.7M847.2,215.7 851.0,223.2 855.9,233.2 859.3,243.2 860.9,251.5 865.1,248.2 867.6,244.0 869.3,244.9M859.1,210.9 860.1,219.9 862.9,226.6 863.9,236.6 867.1,243.2 869.3,244.9 870.9,246.5 873.4,253.2 875.1,259.9M867.6,209.1 870.1,223.2 872.6,236.6 875.1,246.5 876.8,259.9M883.4,233.2 880.9,243.2 877.6,246.5 875.3,248.3M876.8,259.9 885.9,258.2M828.0,255.8 842.6,254.5 854.3,256.5 858.4,253.2 860.9,251.5M851.6,337.9 854.1,337.1 855.8,337.9 855.0,341.7 856.2,346.7 857.1,348.7 855.4,349.6 853.7,345.8 852.5,341.7ZM857.1,348.7 859.1,348.7 860.8,351.6 865.0,356.6 868.3,359.1 870.0,361.6 871.2,364.1 870.8,365.4 870.0,369.1 868.3,376.6 865.0,378.3 860.8,380.0M855.4,349.6 857.1,357.5 859.1,367.9M859.1,367.9 870.8,365.5M855.3,349.4 848.3,350.8 847.5,355.0 849.1,358.3 848.3,361.6 850.8,365.0 850.0,368.3 851.6,371.6 854.1,373.3 857.5,374.1 859.1,376.6 860.8,380.0M860.8,380.0 861.6,386.6 861.2,393.3 863.3,399.1 865.4,390.0 866.6,386.6 867.9,381.6 868.1,376.7M872.9,315.4 874.6,310.8 877.5,307.9 881.6,305.8 887.5,302.1 893.3,299.6 896.6,297.5 899.1,293.7 900.8,292.1 900.0,295.0 903.3,294.1 906.6,292.5 908.7,291.6 908.3,293.7 905.0,295.8 901.6,297.9 899.1,299.1 895.0,302.9 893.3,304.1 887.5,306.6 882.5,310.0 879.6,312.5 876.7,313.7 875.0,316.2ZM890.8,291.8 895.0,289.0 900.0,286.8 904.0,285.5 902.3,288.7 896.6,291.0 892.6,293.1Z"/>
<path fill="none" stroke="#000" stroke-width="2.8" stroke-linejoin="round" stroke-linecap="round" d="M618.1,470.0 616.5,476.7 613.2,483.3 611.5,491.6 606.5,499.1 604.0,506.6 599.9,514.1 595.7,521.6 594.9,528.3 596.6,536.6 598.2,544.9 601.5,554.9 599.9,562.4 598.2,568.2 594.9,574.1 593.2,583.2 591.6,590.2"/>
<rect x="11.00" y="788.5" width="62.67" height="55.5" fill="#001eff" stroke="#000" stroke-width="1.4"/>
<rect x="73.67" y="788.5" width="62.67" height="55.5" fill="#0064ff" stroke="#000" stroke-width="1.4"/>
<rect x="136.33" y="788.5" width="62.67" height="55.5" fill="#00a0ff" stroke="#000" stroke-width="1.4"/>
<rect x="199.00" y="788.5" width="62.67" height="55.5" fill="#00dcff" stroke="#000" stroke-width="1.4"/>
<rect x="261.67" y="788.5" width="62.67" height="55.5" fill="#14ffeb" stroke="#000" stroke-width="1.4"/>
<rect x="324.33" y="788.5" width="62.67" height="55.5" fill="#50ffb4" stroke="#000" stroke-width="1.4"/>
<rect x="387.00" y="788.5" width="62.67" height="55.5" fill="#8cff78" stroke="#000" stroke-width="1.4"/>
<rect x="449.67" y="788.5" width="62.67" height="55.5" fill="#ffffff" stroke="#000" stroke-width="1.4"/>
<rect x="512.33" y="788.5" width="62.67" height="55.5" fill="#ffff00" stroke="#000" stroke-width="1.4"/>
<rect x="575.00" y="788.5" width="62.67" height="55.5" fill="#ffc800" stroke="#000" stroke-width="1.4"/>
<rect x="637.67" y="788.5" width="62.67" height="55.5" fill="#ff8c00" stroke="#000" stroke-width="1.4"/>
<rect x="700.33" y="788.5" width="62.67" height="55.5" fill="#ff5000" stroke="#000" stroke-width="1.4"/>
<rect x="763.00" y="788.5" width="62.67" height="55.5" fill="#ff1e00" stroke="#000" stroke-width="1.4"/>
<rect x="825.67" y="788.5" width="62.67" height="55.5" fill="#d20000" stroke="#000" stroke-width="1.4"/>
<rect x="888.33" y="788.5" width="62.67" height="55.5" fill="#8c0000" stroke="#000" stroke-width="1.4"/>
<text x="109.5" y="24.2" font-family="Liberation Sans, sans-serif" font-size="28" textLength="144.0" lengthAdjust="spacingAndGlyphs">NOAA/NCEI</text>
<text x="270.6" y="24.2" font-family="Liberation Sans, sans-serif" font-size="28" textLength="97.6" lengthAdjust="spacingAndGlyphs">Climate</text>
<text x="384.9" y="24.2" font-family="Liberation Sans, sans-serif" font-size="28" textLength="95.5" lengthAdjust="spacingAndGlyphs">Division</text>
<text x="498.1" y="24.2" font-family="Liberation Sans, sans-serif" font-size="28" textLength="165.6" lengthAdjust="spacingAndGlyphs">Temperature</text>
<text x="677.5" y="24.2" font-family="Liberation Sans, sans-serif" font-size="28" textLength="132.3" lengthAdjust="spacingAndGlyphs">Anomalies</text>
<text x="828.9" y="24.2" font-family="Liberation Sans, sans-serif" font-size="28" textLength="34.5" lengthAdjust="spacingAndGlyphs">(F)</text>
<text x="419.2" y="58.6" font-family="Liberation Sans, sans-serif" font-size="28" textLength="46.6" lengthAdjust="spacingAndGlyphs">Feb</text>
<text x="485.8" y="58.6" font-family="Liberation Sans, sans-serif" font-size="28" textLength="68.7" lengthAdjust="spacingAndGlyphs">1982</text>
<text x="282.5" y="88.3" font-family="Liberation Sans, sans-serif" font-size="22" stroke="#000" stroke-width="0.5" textLength="68.9" lengthAdjust="spacingAndGlyphs">Versus</text>
<text x="364.9" y="88.3" font-family="Liberation Sans, sans-serif" font-size="22" stroke="#000" stroke-width="0.5" textLength="120.8" lengthAdjust="spacingAndGlyphs">1895−2000</text>
<text x="500.4" y="88.3" font-family="Liberation Sans, sans-serif" font-size="22" stroke="#000" stroke-width="0.5" textLength="94.0" lengthAdjust="spacingAndGlyphs">Longterm</text>
<text x="609.2" y="88.3" font-family="Liberation Sans, sans-serif" font-size="22" stroke="#000" stroke-width="0.5" textLength="81.4" lengthAdjust="spacingAndGlyphs">Average</text>
<text x="634" y="780" font-family="Liberation Sans, sans-serif" font-size="20.5" stroke="#000" stroke-width="0.45" textLength="48.5" lengthAdjust="spacingAndGlyphs">NOAA</text>
<text x="692.5" y="780" font-family="Liberation Sans, sans-serif" font-size="20.5" stroke="#000" stroke-width="0.45" textLength="36.5" lengthAdjust="spacingAndGlyphs">PSL</text>
<text x="737.5" y="780" font-family="Liberation Sans, sans-serif" font-size="20.5" stroke="#000" stroke-width="0.45" textLength="33.5" lengthAdjust="spacingAndGlyphs">and</text>
<text x="782.5" y="780" font-family="Liberation Sans, sans-serif" font-size="20.5" stroke="#000" stroke-width="0.45" textLength="96.0" lengthAdjust="spacingAndGlyphs">CIRES−CU</text>
<text x="44" y="876" font-family="Liberation Sans, sans-serif" font-size="33" textLength="77.0" lengthAdjust="spacingAndGlyphs">−6.0</text>
<text x="170" y="876" font-family="Liberation Sans, sans-serif" font-size="33" textLength="77.0" lengthAdjust="spacingAndGlyphs">−4.0</text>
<text x="296" y="876" font-family="Liberation Sans, sans-serif" font-size="33" textLength="76.5" lengthAdjust="spacingAndGlyphs">−2.0</text>
<text x="442" y="876" font-family="Liberation Sans, sans-serif" font-size="33" textLength="49.0" lengthAdjust="spacingAndGlyphs">0.0</text>
<text x="567" y="876" font-family="Liberation Sans, sans-serif" font-size="33" textLength="49.0" lengthAdjust="spacingAndGlyphs">2.0</text>
<text x="692.5" y="876" font-family="Liberation Sans, sans-serif" font-size="33" textLength="48.5" lengthAdjust="spacingAndGlyphs">4.0</text>
<text x="818.5" y="876" font-family="Liberation Sans, sans-serif" font-size="33" textLength="49.0" lengthAdjust="spacingAndGlyphs">6.0</text>
</svg>
</body></html>
